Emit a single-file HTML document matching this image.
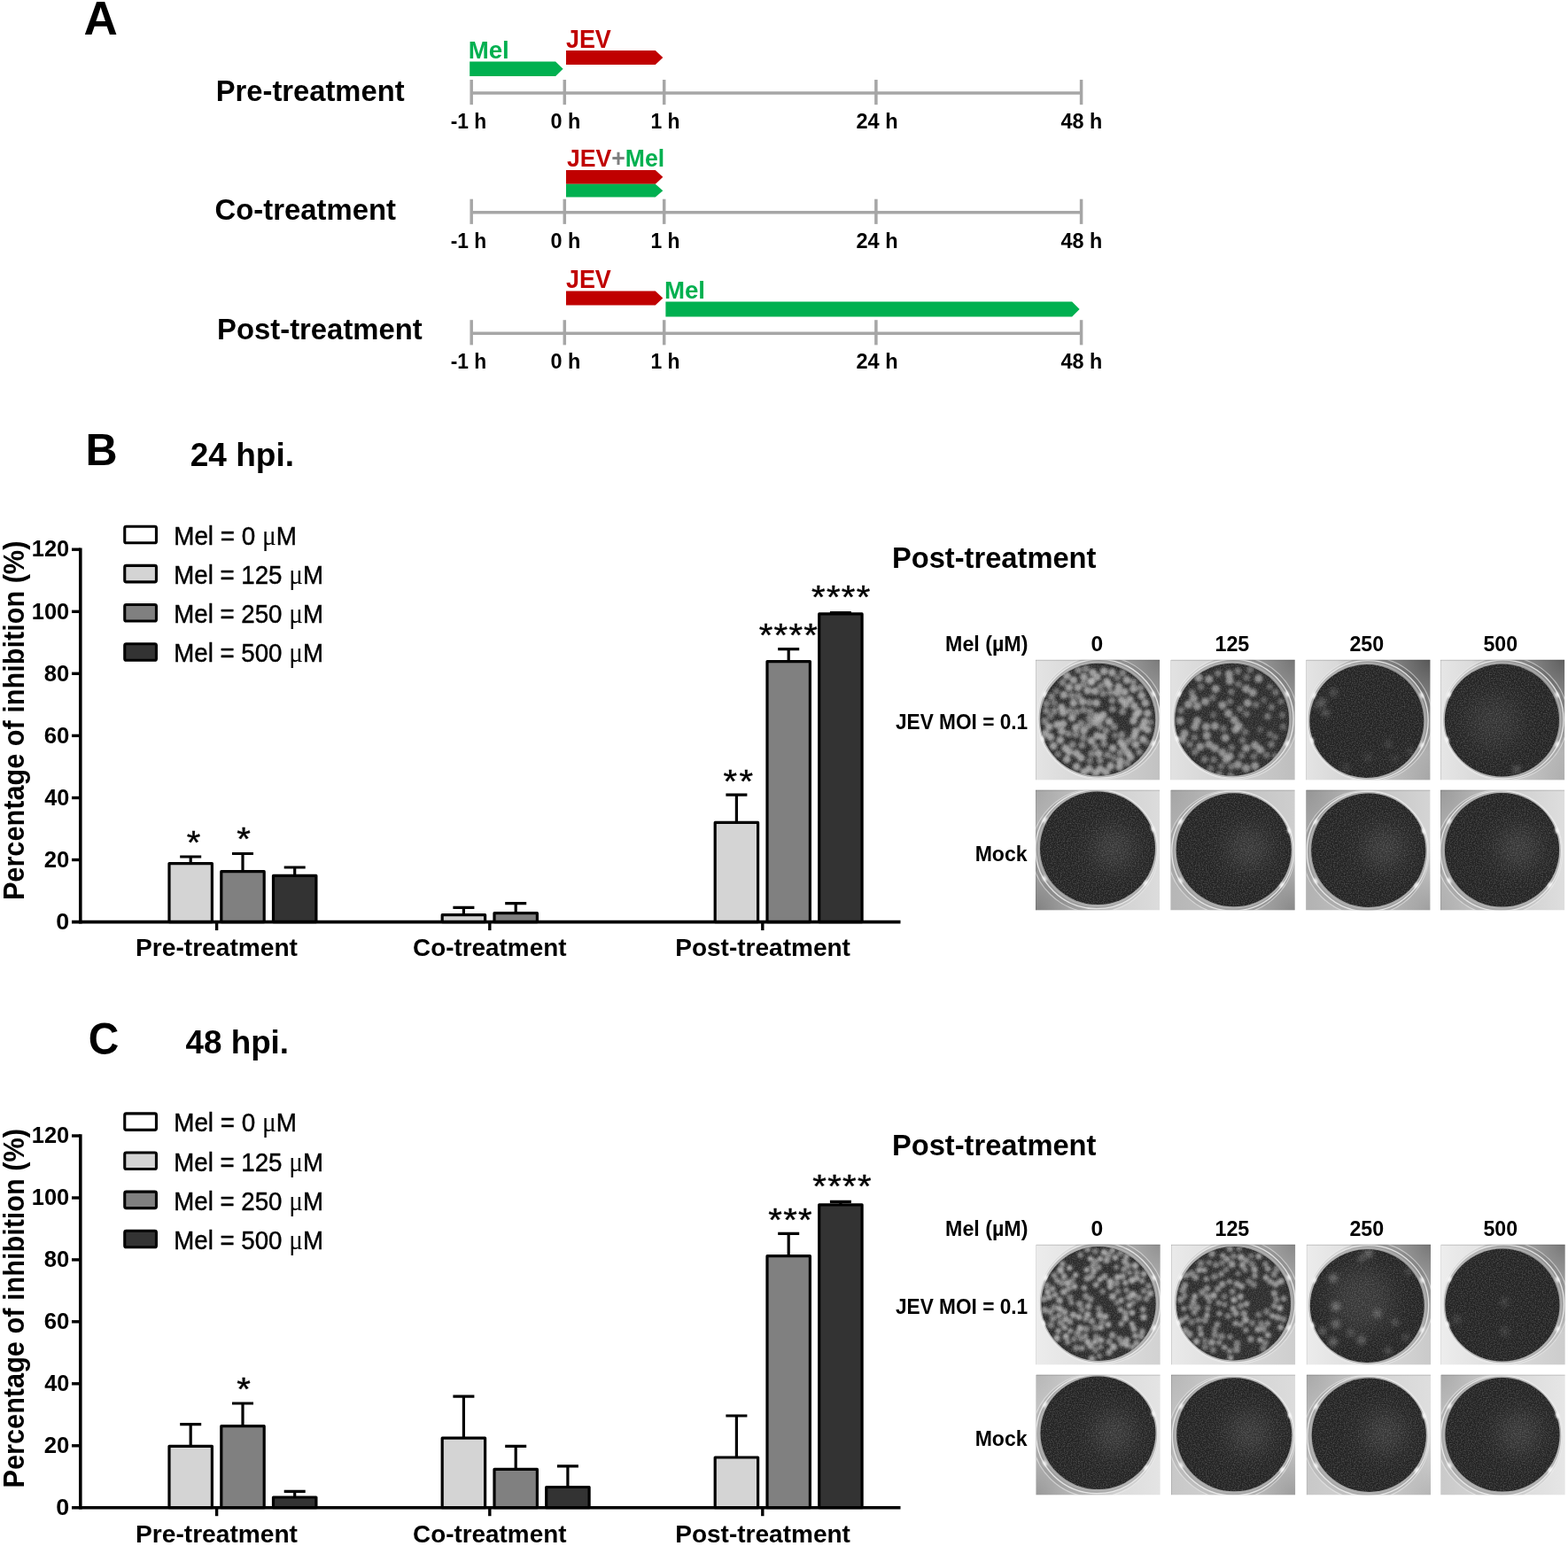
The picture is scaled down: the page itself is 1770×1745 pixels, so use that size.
<!DOCTYPE html>
<html lang="en"><head><meta charset="utf-8"><title>Figure</title>
<style>html,body{margin:0;padding:0;background:#fff}svg{display:block}text{font-family:"Liberation Sans",sans-serif}.b{font-weight:bold}.mu{font-family:"Liberation Serif",serif}</style></head><body>
<svg width="1770" height="1745" viewBox="0 0 1770 1745">
<rect width="1770" height="1745" fill="#fff"/>
<defs>
<filter id="blur0" x="-5%" y="-5%" width="110%" height="110%"><feGaussianBlur stdDeviation="0.55"/></filter>
<filter id="blur1" x="-100%" y="-100%" width="300%" height="300%"><feGaussianBlur stdDeviation="0.9"/></filter>
<filter id="blur" x="-20%" y="-20%" width="140%" height="140%"><feGaussianBlur stdDeviation="1.7"/></filter>
<filter id="blur2" x="-20%" y="-20%" width="140%" height="140%"><feGaussianBlur stdDeviation="2.6"/></filter>
<filter id="blur3" x="-100%" y="-100%" width="300%" height="300%"><feGaussianBlur stdDeviation="12"/></filter>
<filter id="noise" x="0" y="0" width="100%" height="100%"><feTurbulence type="fractalNoise" baseFrequency="0.75" numOctaves="1" seed="3" result="n"/><feGaussianBlur in="n" stdDeviation="0.45" result="nb"/><feColorMatrix in="nb" type="matrix" values="0 0 0 0 1  0 0 0 0 1  0 0 0 0 1  0.5 0 0 0 -0.205" result="m"/><feComposite in="m" in2="SourceGraphic" operator="in"/></filter>
<linearGradient id="gm" x1="0" y1="0" x2="0" y2="1"><stop offset="0" stop-color="#fff" stop-opacity="0"/><stop offset="1" stop-color="#fff" stop-opacity="1"/></linearGradient>
</defs>
<text transform="translate(94.58 38.8) scale(1.0057 1)" font-size="52.76" class="b">A</text>
<g stroke="#a6a6a6" stroke-width="3.5" fill="none">
<path d="M532.2 105.0H1220.6"/>
<path d="M532.2 90.0V118.2"/>
<path d="M637.3 90.0V118.2"/>
<path d="M749.7 90.0V118.2"/>
<path d="M988.9 90.0V118.2"/>
<path d="M1220.6 90.0V118.2"/>
</g>
<text transform="translate(508.71 144.6) scale(0.9330 1)" font-size="24.42" class="b">-1 h</text>
<text transform="translate(621.47 144.6) scale(0.9603 1)" font-size="24.42" class="b">0 h</text>
<text transform="translate(734.46 144.6) scale(0.9370 1)" font-size="24.42" class="b">1 h</text>
<text transform="translate(966.38 144.6) scale(0.9677 1)" font-size="24.42" class="b">24 h</text>
<text transform="translate(1197.45 144.6) scale(0.9579 1)" font-size="24.42" class="b">48 h</text>
<text transform="translate(243.71 114.1) scale(0.9794 1)" font-size="33.43" class="b">Pre-treatment</text>
<polygon points="530.2,69.5 627.1,69.5 635.6,77.8 627.1,86.1 530.2,86.1" fill="#00b050"/>
<polygon points="639,57 739.8,57 748.3,65.0 739.8,73 639,73" fill="#c00000"/>
<text transform="translate(528.65 65.6) scale(1.0231 1)" font-size="27.04" class="b" fill="#00b050">Mel</text>
<text transform="translate(638.89 54) scale(0.9098 1)" font-size="29.65" class="b" fill="#c00000">JEV</text>
<g stroke="#a6a6a6" stroke-width="3.5" fill="none">
<path d="M532.2 239.7H1220.6"/>
<path d="M532.2 224.7V252.89999999999998"/>
<path d="M637.3 224.7V252.89999999999998"/>
<path d="M749.7 224.7V252.89999999999998"/>
<path d="M988.9 224.7V252.89999999999998"/>
<path d="M1220.6 224.7V252.89999999999998"/>
</g>
<text transform="translate(508.71 279.5) scale(0.9330 1)" font-size="24.42" class="b">-1 h</text>
<text transform="translate(621.47 279.5) scale(0.9603 1)" font-size="24.42" class="b">0 h</text>
<text transform="translate(734.46 279.5) scale(0.9370 1)" font-size="24.42" class="b">1 h</text>
<text transform="translate(966.38 279.5) scale(0.9677 1)" font-size="24.42" class="b">24 h</text>
<text transform="translate(1197.45 279.5) scale(0.9579 1)" font-size="24.42" class="b">48 h</text>
<text transform="translate(242.55 247.5) scale(0.9828 1)" font-size="33.43" class="b">Co-treatment</text>
<polygon points="639,192 739.8,192 748.3,199.85 739.8,207.7 639,207.7" fill="#c00000"/>
<polygon points="639,207.7 739.8,207.7 748.3,215.14999999999998 739.8,222.6 639,222.6" fill="#00b050"/>
<text transform="translate(639.90 187.6) scale(0.9436 1)" font-size="28.20" class="b"><tspan fill="#c00000">JEV</tspan><tspan fill="#7f7f7f">+</tspan><tspan fill="#00b050">Mel</tspan></text>
<g stroke="#a6a6a6" stroke-width="3.5" fill="none">
<path d="M532.2 376.2H1220.6"/>
<path d="M532.2 361.2V389.4"/>
<path d="M637.3 361.2V389.4"/>
<path d="M749.7 361.2V389.4"/>
<path d="M988.9 361.2V389.4"/>
<path d="M1220.6 361.2V389.4"/>
</g>
<text transform="translate(508.71 416) scale(0.9330 1)" font-size="24.42" class="b">-1 h</text>
<text transform="translate(621.47 416) scale(0.9603 1)" font-size="24.42" class="b">0 h</text>
<text transform="translate(734.46 416) scale(0.9370 1)" font-size="24.42" class="b">1 h</text>
<text transform="translate(966.38 416) scale(0.9677 1)" font-size="24.42" class="b">24 h</text>
<text transform="translate(1197.45 416) scale(0.9579 1)" font-size="24.42" class="b">48 h</text>
<text transform="translate(245.10 382.6) scale(0.9821 1)" font-size="33.43" class="b">Post-treatment</text>
<polygon points="639,328.6 739.8,328.6 748.3,336.5 739.8,344.4 639,344.4" fill="#c00000"/>
<polygon points="751.4,340.4 1210.1,340.4 1218.6,349.0 1210.1,357.6 751.4,357.6" fill="#00b050"/>
<text transform="translate(638.89 324.5) scale(0.9098 1)" font-size="29.65" class="b" fill="#c00000">JEV</text>
<text transform="translate(749.95 336.9) scale(1.0231 1)" font-size="27.04" class="b" fill="#00b050">Mel</text>
<rect x="140.75" y="594.25" width="35.7" height="18.5" rx="1.8" fill="#ffffff" stroke="#000" stroke-width="3.1"/>
<text transform="translate(196.22 614.7) scale(0.9161 1)" font-size="30.38" stroke="#000" stroke-width="0.45">Mel = 0 <tspan class="mu" stroke="none" font-size="32.20">μ</tspan>M</text>
<rect x="140.75" y="638.40" width="35.7" height="18.5" rx="1.8" fill="#d4d4d4" stroke="#000" stroke-width="3.1"/>
<text transform="translate(196.23 658.9) scale(0.9113 1)" font-size="30.38" stroke="#000" stroke-width="0.45">Mel = 125 <tspan class="mu" stroke="none" font-size="32.20">μ</tspan>M</text>
<rect x="140.75" y="682.55" width="35.7" height="18.5" rx="1.8" fill="#808080" stroke="#000" stroke-width="3.1"/>
<text transform="translate(196.23 703.0) scale(0.9113 1)" font-size="30.38" stroke="#000" stroke-width="0.45">Mel = 250 <tspan class="mu" stroke="none" font-size="32.20">μ</tspan>M</text>
<rect x="140.75" y="726.70" width="35.7" height="18.5" rx="1.8" fill="#333333" stroke="#000" stroke-width="3.1"/>
<text transform="translate(196.23 747.2) scale(0.9113 1)" font-size="30.38" stroke="#000" stroke-width="0.45">Mel = 500 <tspan class="mu" stroke="none" font-size="32.20">μ</tspan>M</text>
<path d="M215.2 974.6V967.0M203.2 967.0H227.2" stroke="#000" stroke-width="3.2" fill="none"/>
<rect x="191.0" y="974.6" width="48.4" height="66.0" fill="#d4d4d4" stroke="#000" stroke-width="3.2" stroke-linejoin="round"/>
<path d="M274.0 983.7V963.5M262.0 963.5H286.0" stroke="#000" stroke-width="3.2" fill="none"/>
<rect x="249.8" y="983.7" width="48.4" height="56.9" fill="#808080" stroke="#000" stroke-width="3.2" stroke-linejoin="round"/>
<path d="M332.7 988.4V979.0M320.7 979.0H344.7" stroke="#000" stroke-width="3.2" fill="none"/>
<rect x="308.5" y="988.4" width="48.4" height="52.2" fill="#333333" stroke="#000" stroke-width="3.2" stroke-linejoin="round"/>
<path d="M523.4 1032.7V1024.4M511.4 1024.4H535.4" stroke="#000" stroke-width="3.2" fill="none"/>
<rect x="499.2" y="1032.7" width="48.4" height="7.9" fill="#d4d4d4" stroke="#000" stroke-width="3.2" stroke-linejoin="round"/>
<path d="M582.2 1030.7V1019.7M570.2 1019.7H594.2" stroke="#000" stroke-width="3.2" fill="none"/>
<rect x="558.0" y="1030.7" width="48.4" height="9.9" fill="#808080" stroke="#000" stroke-width="3.2" stroke-linejoin="round"/>
<path d="M831.4 928.4V897.2M819.4 897.2H843.4" stroke="#000" stroke-width="3.2" fill="none"/>
<rect x="807.2" y="928.4" width="48.4" height="112.2" fill="#d4d4d4" stroke="#000" stroke-width="3.2" stroke-linejoin="round"/>
<path d="M890.2 746.6V732.7M878.2 732.7H902.2" stroke="#000" stroke-width="3.2" fill="none"/>
<rect x="866.0" y="746.6" width="48.4" height="294.0" fill="#808080" stroke="#000" stroke-width="3.2" stroke-linejoin="round"/>
<path d="M948.9 692.9V691.6M936.9 691.6H960.9" stroke="#000" stroke-width="3.2" fill="none"/>
<rect x="924.7" y="692.9" width="48.4" height="347.7" fill="#333333" stroke="#000" stroke-width="3.2" stroke-linejoin="round"/>
<g stroke="#000" stroke-width="3.6" fill="none">
<path d="M90.8 618.5V1042.4"/>
<path d="M81 1040.6H1016.5"/>
</g>
<g stroke="#000" stroke-width="3.4" fill="none">
<path d="M81 970.5H90.8"/>
<path d="M81 900.5H90.8"/>
<path d="M81 830.4H90.8"/>
<path d="M81 760.3H90.8"/>
<path d="M81 690.3H90.8"/>
<path d="M81 620.2H90.8"/>
<path d="M244.6 1040.6V1050.1"/>
<path d="M552.8 1040.6V1050.1"/>
<path d="M860.8 1040.6V1050.1"/>
</g>
<text transform="translate(63.34 1048.8) scale(1.0461 1)" font-size="25.73" class="b">0</text>
<text transform="translate(49.71 978.7) scale(0.9974 1)" font-size="25.73" class="b">20</text>
<text transform="translate(50.22 908.7) scale(0.9790 1)" font-size="25.73" class="b">40</text>
<text transform="translate(49.66 838.6) scale(0.9993 1)" font-size="25.73" class="b">60</text>
<text transform="translate(49.79 768.5) scale(0.9946 1)" font-size="25.73" class="b">80</text>
<text transform="translate(35.80 698.5) scale(0.9888 1)" font-size="25.73" class="b">100</text>
<text transform="translate(35.80 628.4) scale(0.9888 1)" font-size="25.73" class="b">120</text>
<text transform="translate(153.02 1079.4) scale(0.9932 1)" font-size="28.34" class="b">Pre-treatment</text>
<text transform="translate(466.06 1079.4) scale(0.9836 1)" font-size="28.34" class="b">Co-treatment</text>
<text transform="translate(762.22 1079.4) scale(0.9890 1)" font-size="28.34" class="b">Post-treatment</text>
<text transform="translate(26.7 1016.1) rotate(-90) scale(0.9018 1)" font-size="34.01" class="b">Percentage of inhibition (%)</text>
<text transform="translate(210.7 963.5) scale(1 0.9)" font-size="40" letter-spacing="1.3" stroke="#000" stroke-width="0.45">*</text>
<text transform="translate(267.2 960.2) scale(1 0.9)" font-size="40" letter-spacing="1.3" stroke="#000" stroke-width="0.45">*</text>
<text transform="translate(816.5 895.0) scale(1 0.9)" font-size="40" letter-spacing="2.4" stroke="#000" stroke-width="0.45">**</text>
<text transform="translate(856.7 729.5) scale(1 0.9)" font-size="40" letter-spacing="1.3" stroke="#000" stroke-width="0.45">****</text>
<text transform="translate(916.1 687.4) scale(1 0.9)" font-size="40" letter-spacing="1.3" stroke="#000" stroke-width="0.45">****</text>
<text transform="translate(96.45 524.5) scale(0.9859 1)" font-size="50.73" class="b">B</text>
<text transform="translate(214.71 526.4) scale(0.9887 1)" font-size="37.50" class="b">24 hpi.</text>
<rect x="140.75" y="1256.85" width="35.7" height="18.5" rx="1.8" fill="#ffffff" stroke="#000" stroke-width="3.1"/>
<text transform="translate(196.22 1277.3) scale(0.9161 1)" font-size="30.38" stroke="#000" stroke-width="0.45">Mel = 0 <tspan class="mu" stroke="none" font-size="32.20">μ</tspan>M</text>
<rect x="140.75" y="1301.00" width="35.7" height="18.5" rx="1.8" fill="#d4d4d4" stroke="#000" stroke-width="3.1"/>
<text transform="translate(196.23 1321.5) scale(0.9113 1)" font-size="30.38" stroke="#000" stroke-width="0.45">Mel = 125 <tspan class="mu" stroke="none" font-size="32.20">μ</tspan>M</text>
<rect x="140.75" y="1345.15" width="35.7" height="18.5" rx="1.8" fill="#808080" stroke="#000" stroke-width="3.1"/>
<text transform="translate(196.23 1365.6) scale(0.9113 1)" font-size="30.38" stroke="#000" stroke-width="0.45">Mel = 250 <tspan class="mu" stroke="none" font-size="32.20">μ</tspan>M</text>
<rect x="140.75" y="1389.30" width="35.7" height="18.5" rx="1.8" fill="#333333" stroke="#000" stroke-width="3.1"/>
<text transform="translate(196.23 1409.8) scale(0.9113 1)" font-size="30.38" stroke="#000" stroke-width="0.45">Mel = 500 <tspan class="mu" stroke="none" font-size="32.20">μ</tspan>M</text>
<path d="M215.2 1632.3V1607.7M203.2 1607.7H227.2" stroke="#000" stroke-width="3.2" fill="none"/>
<rect x="191.0" y="1632.3" width="48.4" height="69.4" fill="#d4d4d4" stroke="#000" stroke-width="3.2" stroke-linejoin="round"/>
<path d="M274.0 1609.7V1584.0M262.0 1584.0H286.0" stroke="#000" stroke-width="3.2" fill="none"/>
<rect x="249.8" y="1609.7" width="48.4" height="92.0" fill="#808080" stroke="#000" stroke-width="3.2" stroke-linejoin="round"/>
<path d="M332.7 1690.0V1683.3M320.7 1683.3H344.7" stroke="#000" stroke-width="3.2" fill="none"/>
<rect x="308.5" y="1690.0" width="48.4" height="11.7" fill="#333333" stroke="#000" stroke-width="3.2" stroke-linejoin="round"/>
<path d="M523.4 1623.2V1576.1M511.4 1576.1H535.4" stroke="#000" stroke-width="3.2" fill="none"/>
<rect x="499.2" y="1623.2" width="48.4" height="78.5" fill="#d4d4d4" stroke="#000" stroke-width="3.2" stroke-linejoin="round"/>
<path d="M582.2 1658.4V1632.3M570.2 1632.3H594.2" stroke="#000" stroke-width="3.2" fill="none"/>
<rect x="558.0" y="1658.4" width="48.4" height="43.3" fill="#808080" stroke="#000" stroke-width="3.2" stroke-linejoin="round"/>
<path d="M640.9 1678.5V1654.8M628.9 1654.8H652.9" stroke="#000" stroke-width="3.2" fill="none"/>
<rect x="616.7" y="1678.5" width="48.4" height="23.2" fill="#333333" stroke="#000" stroke-width="3.2" stroke-linejoin="round"/>
<path d="M831.4 1645.0V1598.0M819.4 1598.0H843.4" stroke="#000" stroke-width="3.2" fill="none"/>
<rect x="807.2" y="1645.0" width="48.4" height="56.7" fill="#d4d4d4" stroke="#000" stroke-width="3.2" stroke-linejoin="round"/>
<path d="M890.2 1417.7V1392.3M878.2 1392.3H902.2" stroke="#000" stroke-width="3.2" fill="none"/>
<rect x="866.0" y="1417.7" width="48.4" height="284.0" fill="#808080" stroke="#000" stroke-width="3.2" stroke-linejoin="round"/>
<path d="M948.9 1359.8V1356.4M936.9 1356.4H960.9" stroke="#000" stroke-width="3.2" fill="none"/>
<rect x="924.7" y="1359.8" width="48.4" height="341.9" fill="#333333" stroke="#000" stroke-width="3.2" stroke-linejoin="round"/>
<g stroke="#000" stroke-width="3.6" fill="none">
<path d="M90.8 1280.3V1703.5"/>
<path d="M81 1701.7H1016.5"/>
</g>
<g stroke="#000" stroke-width="3.4" fill="none">
<path d="M81 1631.8H90.8"/>
<path d="M81 1561.8H90.8"/>
<path d="M81 1491.8H90.8"/>
<path d="M81 1421.9H90.8"/>
<path d="M81 1352.0H90.8"/>
<path d="M81 1282.0H90.8"/>
<path d="M244.6 1701.7V1711.2"/>
<path d="M552.8 1701.7V1711.2"/>
<path d="M860.8 1701.7V1711.2"/>
</g>
<text transform="translate(63.34 1709.9) scale(1.0461 1)" font-size="25.73" class="b">0</text>
<text transform="translate(49.71 1640.0) scale(0.9974 1)" font-size="25.73" class="b">20</text>
<text transform="translate(50.22 1570.0) scale(0.9790 1)" font-size="25.73" class="b">40</text>
<text transform="translate(49.66 1500.0) scale(0.9993 1)" font-size="25.73" class="b">60</text>
<text transform="translate(49.79 1430.1) scale(0.9946 1)" font-size="25.73" class="b">80</text>
<text transform="translate(35.80 1360.2) scale(0.9888 1)" font-size="25.73" class="b">100</text>
<text transform="translate(35.80 1290.2) scale(0.9888 1)" font-size="25.73" class="b">120</text>
<text transform="translate(153.02 1740.5) scale(0.9932 1)" font-size="28.34" class="b">Pre-treatment</text>
<text transform="translate(466.06 1740.5) scale(0.9836 1)" font-size="28.34" class="b">Co-treatment</text>
<text transform="translate(762.22 1740.5) scale(0.9890 1)" font-size="28.34" class="b">Post-treatment</text>
<text transform="translate(26.7 1679.4) rotate(-90) scale(0.9018 1)" font-size="34.01" class="b">Percentage of inhibition (%)</text>
<text transform="translate(267.2 1581.0) scale(1 0.9)" font-size="40" letter-spacing="1.3" stroke="#000" stroke-width="0.45">*</text>
<text transform="translate(867.3 1389.7) scale(1 0.9)" font-size="40" letter-spacing="1.3" stroke="#000" stroke-width="0.45">***</text>
<text transform="translate(917.3 1351.7) scale(1 0.9)" font-size="40" letter-spacing="1.3" stroke="#000" stroke-width="0.45">****</text>
<text transform="translate(99.74 1189.7) scale(0.9547 1)" font-size="50.15" class="b">C</text>
<text transform="translate(209.44 1189) scale(0.9824 1)" font-size="37.50" class="b">48 hpi.</text>
<text transform="translate(1006.91 640.8) scale(0.9694 1)" font-size="33.72" class="b">Post-treatment</text>
<text transform="translate(1067.05 734.8) scale(0.9808 1)" font-size="23.69" class="b">Mel (µM)</text>
<text transform="translate(1231.48 734.8) scale(1.0384 1)" font-size="23.69" class="b">0</text>
<text transform="translate(1371.43 734.8) scale(0.9845 1)" font-size="23.69" class="b">125</text>
<text transform="translate(1523.39 734.8) scale(0.9805 1)" font-size="23.69" class="b">250</text>
<text transform="translate(1674.39 734.8) scale(0.9781 1)" font-size="23.69" class="b">500</text>
<text transform="translate(1010.96 823) scale(0.9572 1)" font-size="23.69" class="b">JEV MOI = 0.1</text>
<text transform="translate(1100.66 971.6) scale(0.9729 1)" font-size="23.69" class="b">Mock</text>
<g><defs><clipPath id="tc1"><rect x="1169" y="744.6" width="140.3" height="136"/></clipPath><clipPath id="dc1"><ellipse cx="1239.2" cy="812.3" rx="65" ry="63.5"/></clipPath><linearGradient id="ga1" x1="0" y1="0" x2="1" y2="0"><stop offset="0" stop-color="#e4e4e4"/><stop offset="1" stop-color="#c2c2c2"/></linearGradient>
<radialGradient id="gc1_0" gradientUnits="userSpaceOnUse" cx="1309.3" cy="744.6" r="100"><stop offset="0" stop-color="#505050" stop-opacity="0.62"/><stop offset="1" stop-color="#505050" stop-opacity="0"/></radialGradient>
</defs>
<g clip-path="url(#tc1)">
<rect x="1169" y="744.6" width="140.3" height="136" fill="url(#ga1)"/>
<rect x="1169" y="744.6" width="140.3" height="136" fill="url(#gc1_0)"/>
<g filter="url(#blur0)">
<ellipse cx="1242.3" cy="810.1" rx="71.4" ry="69.5" fill="#000" fill-opacity="0.07" stroke="#f0f0f0" stroke-opacity="0.55" stroke-width="1.1"/>
<ellipse cx="1240.6" cy="811.3" rx="68.6" ry="66.9" fill="#9c9c9c" fill-opacity="0.65" stroke="#ececec" stroke-opacity="0.9" stroke-width="1.3"/>
<ellipse cx="1239.8" cy="811.9" rx="66.3" ry="64.7" fill="none" stroke="#b8b8b8" stroke-opacity="0.8" stroke-width="1.1"/>
</g>
<ellipse cx="1239.2" cy="812.3" rx="65" ry="63.5" fill="#2b2b2b"/>
<g clip-path="url(#dc1)"><g filter="url(#blur)" fill="#b4b4b4">
<circle cx="1233.6" cy="759.2" r="4.4" fill-opacity="0.80"/>
<circle cx="1246.1" cy="757.6" r="4.4" fill-opacity="0.80"/>
<circle cx="1255.3" cy="759.2" r="4.4" fill-opacity="0.80"/>
<circle cx="1204.3" cy="762.6" r="4.4" fill-opacity="0.80"/>
<circle cx="1223.5" cy="764.2" r="4.4" fill-opacity="0.80"/>
<circle cx="1238.6" cy="764.2" r="4.4" fill-opacity="0.80"/>
<circle cx="1231.9" cy="769.3" r="4.6" fill-opacity="0.95"/>
<circle cx="1211.8" cy="767.6" r="4.4" fill-opacity="0.80"/>
<circle cx="1249.4" cy="769.3" r="4.4" fill-opacity="0.80"/>
<circle cx="1272.0" cy="767.6" r="4.4" fill-opacity="0.80"/>
<circle cx="1216.8" cy="776.0" r="4.4" fill-opacity="0.80"/>
<circle cx="1206.8" cy="776.0" r="4.4" fill-opacity="0.80"/>
<circle cx="1252.0" cy="773.4" r="4.4" fill-opacity="0.80"/>
<circle cx="1262.8" cy="775.1" r="4.4" fill-opacity="0.80"/>
<circle cx="1279.5" cy="777.6" r="4.4" fill-opacity="0.80"/>
<circle cx="1236.1" cy="780.1" r="4.4" fill-opacity="0.80"/>
<circle cx="1227.7" cy="779.3" r="4.4" fill-opacity="0.80"/>
<circle cx="1269.5" cy="781.0" r="4.4" fill-opacity="0.80"/>
<circle cx="1201.0" cy="784.3" r="4.4" fill-opacity="0.80"/>
<circle cx="1261.2" cy="781.8" r="4.4" fill-opacity="0.80"/>
<circle cx="1288.7" cy="785.2" r="4.4" fill-opacity="0.80"/>
<circle cx="1211.8" cy="793.5" r="4.4" fill-opacity="0.80"/>
<circle cx="1221.9" cy="791.8" r="4.4" fill-opacity="0.80"/>
<circle cx="1237.7" cy="793.5" r="4.4" fill-opacity="0.80"/>
<circle cx="1266.2" cy="790.2" r="4.4" fill-opacity="0.80"/>
<circle cx="1275.4" cy="789.3" r="4.4" fill-opacity="0.80"/>
<circle cx="1270.4" cy="795.2" r="4.4" fill-opacity="0.80"/>
<circle cx="1280.4" cy="796.9" r="4.4" fill-opacity="0.80"/>
<circle cx="1292.9" cy="793.5" r="4.4" fill-opacity="0.80"/>
<circle cx="1198.4" cy="798.5" r="4.4" fill-opacity="0.80"/>
<circle cx="1200.1" cy="804.4" r="4.4" fill-opacity="0.80"/>
<circle cx="1285.4" cy="803.5" r="4.4" fill-opacity="0.80"/>
<circle cx="1210.2" cy="810.2" r="4.4" fill-opacity="0.80"/>
<circle cx="1237.7" cy="808.6" r="4.4" fill-opacity="0.80"/>
<circle cx="1245.3" cy="806.9" r="4.4" fill-opacity="0.80"/>
<circle cx="1282.1" cy="806.9" r="4.4" fill-opacity="0.80"/>
<circle cx="1295.4" cy="805.2" r="4.4" fill-opacity="0.80"/>
<circle cx="1236.1" cy="815.3" r="4.4" fill-opacity="0.80"/>
<circle cx="1252.0" cy="814.4" r="4.4" fill-opacity="0.80"/>
<circle cx="1241.9" cy="811.9" r="4.4" fill-opacity="0.80"/>
<circle cx="1279.5" cy="813.6" r="4.4" fill-opacity="0.80"/>
<circle cx="1292.1" cy="814.4" r="4.4" fill-opacity="0.80"/>
<circle cx="1184.2" cy="820.3" r="4.4" fill-opacity="0.80"/>
<circle cx="1193.4" cy="817.8" r="4.4" fill-opacity="0.80"/>
<circle cx="1200.1" cy="816.9" r="4.4" fill-opacity="0.80"/>
<circle cx="1214.3" cy="821.1" r="4.4" fill-opacity="0.80"/>
<circle cx="1289.6" cy="820.3" r="4.4" fill-opacity="0.80"/>
<circle cx="1223.5" cy="824.4" r="4.4" fill-opacity="0.80"/>
<circle cx="1198.4" cy="825.3" r="4.4" fill-opacity="0.80"/>
<circle cx="1180.1" cy="827.8" r="4.4" fill-opacity="0.80"/>
<circle cx="1282.1" cy="825.3" r="4.4" fill-opacity="0.80"/>
<circle cx="1295.4" cy="823.6" r="4.4" fill-opacity="0.80"/>
<circle cx="1238.6" cy="830.3" r="4.4" fill-opacity="0.80"/>
<circle cx="1245.3" cy="832.0" r="4.4" fill-opacity="0.80"/>
<circle cx="1185.9" cy="832.0" r="4.4" fill-opacity="0.80"/>
<circle cx="1258.6" cy="830.3" r="3.5" fill-opacity="0.50"/>
<circle cx="1280.4" cy="831.1" r="4.4" fill-opacity="0.80"/>
<circle cx="1231.9" cy="836.2" r="4.4" fill-opacity="0.80"/>
<circle cx="1196.8" cy="835.3" r="4.4" fill-opacity="0.80"/>
<circle cx="1265.3" cy="837.8" r="4.4" fill-opacity="0.80"/>
<circle cx="1290.4" cy="834.5" r="4.4" fill-opacity="0.80"/>
<circle cx="1189.2" cy="842.0" r="4.4" fill-opacity="0.80"/>
<circle cx="1202.6" cy="844.5" r="4.4" fill-opacity="0.80"/>
<circle cx="1256.1" cy="844.5" r="4.4" fill-opacity="0.80"/>
<circle cx="1268.7" cy="842.8" r="4.4" fill-opacity="0.80"/>
<circle cx="1282.1" cy="840.3" r="4.4" fill-opacity="0.80"/>
<circle cx="1215.2" cy="850.4" r="4.4" fill-opacity="0.80"/>
<circle cx="1240.3" cy="850.4" r="4.4" fill-opacity="0.80"/>
<circle cx="1272.9" cy="849.5" r="4.4" fill-opacity="0.80"/>
<circle cx="1206.8" cy="848.7" r="4.4" fill-opacity="0.80"/>
<circle cx="1204.3" cy="857.1" r="4.4" fill-opacity="0.80"/>
<circle cx="1220.2" cy="855.4" r="4.4" fill-opacity="0.80"/>
<circle cx="1264.5" cy="858.7" r="4.4" fill-opacity="0.80"/>
<circle cx="1276.2" cy="854.5" r="4.4" fill-opacity="0.80"/>
<circle cx="1215.2" cy="865.4" r="4.4" fill-opacity="0.80"/>
<circle cx="1229.4" cy="867.9" r="4.4" fill-opacity="0.80"/>
<circle cx="1253.6" cy="864.6" r="4.4" fill-opacity="0.80"/>
<circle cx="1241.9" cy="867.9" r="4.4" fill-opacity="0.80"/>
<circle cx="1263.7" cy="865.4" r="4.4" fill-opacity="0.80"/>
<circle cx="1223.5" cy="871.3" r="4.4" fill-opacity="0.80"/>
<circle cx="1236.9" cy="872.1" r="4.4" fill-opacity="0.80"/>
<circle cx="1248.6" cy="871.3" r="4.4" fill-opacity="0.80"/>
<circle cx="1190.1" cy="793.5" r="3.8" fill-opacity="0.50"/>
<circle cx="1185.9" cy="808.6" r="3.8" fill-opacity="0.50"/>
<circle cx="1298.8" cy="815.3" r="3.5" fill-opacity="0.50"/>
<circle cx="1261.2" cy="765.1" r="3.8" fill-opacity="0.50"/>
<circle cx="1192.6" cy="780.1" r="3.5" fill-opacity="0.50"/>
<circle cx="1286.2" cy="848.7" r="3.8" fill-opacity="0.60"/>
<circle cx="1257.0" cy="855.4" r="3.8" fill-opacity="0.50"/>
<circle cx="1230.2" cy="858.7" r="3.8" fill-opacity="0.50"/>
<circle cx="1194.3" cy="851.2" r="3.8" fill-opacity="0.50"/>
<circle cx="1295.4" cy="838.7" r="3.5" fill-opacity="0.40"/>
<circle cx="1255.9" cy="800.3" r="3.9" fill-opacity="0.60"/>
<circle cx="1246.3" cy="839.7" r="3.9" fill-opacity="0.60"/>
<circle cx="1217.3" cy="756.5" r="3.9" fill-opacity="0.60"/>
<circle cx="1248.7" cy="824.6" r="3.9" fill-opacity="0.60"/>
<circle cx="1221.4" cy="841.2" r="3.9" fill-opacity="0.60"/>
<circle cx="1214.5" cy="828.9" r="3.9" fill-opacity="0.60"/>
<circle cx="1266.2" cy="829.2" r="3.9" fill-opacity="0.60"/>
<circle cx="1230.7" cy="803.2" r="3.9" fill-opacity="0.60"/>
<circle cx="1232.2" cy="850.7" r="3.9" fill-opacity="0.60"/>
<circle cx="1199.6" cy="770.5" r="3.9" fill-opacity="0.60"/>
<circle cx="1210.7" cy="840.5" r="3.9" fill-opacity="0.60"/>
<circle cx="1245.2" cy="782.7" r="3.9" fill-opacity="0.60"/>
<circle cx="1255.4" cy="790.6" r="3.9" fill-opacity="0.60"/>
<circle cx="1210.0" cy="785.1" r="3.9" fill-opacity="0.60"/>
<circle cx="1220.4" cy="816.4" r="3.9" fill-opacity="0.60"/>
<circle cx="1181.3" cy="794.1" r="3.9" fill-opacity="0.60"/>
<circle cx="1253.6" cy="781.4" r="3.9" fill-opacity="0.60"/>
<circle cx="1206.1" cy="828.2" r="3.9" fill-opacity="0.60"/>
<circle cx="1223.0" cy="801.2" r="3.9" fill-opacity="0.60"/>
<circle cx="1179.4" cy="814.0" r="3.9" fill-opacity="0.60"/>
<circle cx="1273.9" cy="836.2" r="3.9" fill-opacity="0.60"/>
<circle cx="1241.9" cy="820.1" r="3.9" fill-opacity="0.60"/>
<circle cx="1267.4" cy="759.6" r="3.9" fill-opacity="0.60"/>
<circle cx="1241.8" cy="858.2" r="3.9" fill-opacity="0.60"/>
<circle cx="1225.7" cy="754.8" r="3.9" fill-opacity="0.60"/>
<circle cx="1250.1" cy="851.9" r="3.9" fill-opacity="0.60"/>
<circle cx="1187.0" cy="786.4" r="3.9" fill-opacity="0.60"/>
<circle cx="1229.7" cy="811.0" r="3.9" fill-opacity="0.60"/>
<circle cx="1279.4" cy="769.9" r="3.9" fill-opacity="0.60"/>
<circle cx="1229.8" cy="793.0" r="3.9" fill-opacity="0.60"/>
<circle cx="1257.7" cy="820.4" r="3.9" fill-opacity="0.60"/>
<circle cx="1190.3" cy="802.4" r="3.9" fill-opacity="0.60"/>
<circle cx="1242.5" cy="774.5" r="3.9" fill-opacity="0.60"/>
<circle cx="1215.1" cy="803.5" r="3.9" fill-opacity="0.60"/>
<circle cx="1228.9" cy="819.1" r="3.9" fill-opacity="0.60"/>
<circle cx="1267.1" cy="803.2" r="3.9" fill-opacity="0.60"/>
<circle cx="1236.4" cy="842.7" r="3.9" fill-opacity="0.60"/>
<circle cx="1264.4" cy="849.7" r="3.9" fill-opacity="0.60"/>
<circle cx="1272.4" cy="861.3" r="3.9" fill-opacity="0.60"/>
<circle cx="1217.6" cy="785.7" r="3.9" fill-opacity="0.60"/>
<circle cx="1287.4" cy="776.3" r="3.9" fill-opacity="0.60"/>
<circle cx="1181.1" cy="802.3" r="3.9" fill-opacity="0.60"/>
<circle cx="1207.4" cy="802.2" r="3.9" fill-opacity="0.60"/>
<circle cx="1223.1" cy="832.7" r="3.9" fill-opacity="0.60"/>
<circle cx="1223.2" cy="771.9" r="3.9" fill-opacity="0.60"/>
</g></g>
<ellipse cx="1239.2" cy="812.3" rx="65" ry="63.5" fill="#fff" filter="url(#noise)"/>
<ellipse cx="1179.2" cy="783.4" rx="3.4" ry="1.7" transform="rotate(295 1179.2 783.4)" fill="#fff" fill-opacity="0.95" filter="url(#blur1)"/>
<ellipse cx="1176.9" cy="833.9" rx="3.4" ry="1.7" transform="rotate(250 1176.9 833.9)" fill="#fff" fill-opacity="0.95" filter="url(#blur1)"/>
<ellipse cx="1302.0" cy="783.4" rx="3.4" ry="1.7" transform="rotate(425 1302.0 783.4)" fill="#fff" fill-opacity="0.95" filter="url(#blur1)"/>
<ellipse cx="1302.0" cy="839.2" rx="3.4" ry="1.7" transform="rotate(115 1302.0 839.2)" fill="#fff" fill-opacity="0.95" filter="url(#blur1)"/>
<path d="M1169 880.6V745.1H1309.3" fill="none" stroke="#000" stroke-opacity="0.22" stroke-width="1"/>
</g></g>
<g><defs><clipPath id="tc2"><rect x="1321.5" y="744.6" width="140.3" height="136"/></clipPath><clipPath id="dc2"><ellipse cx="1390.7" cy="812.3" rx="64.4" ry="63.5"/></clipPath><linearGradient id="ga2" x1="0" y1="0" x2="1" y2="0"><stop offset="0" stop-color="#e2e2e2"/><stop offset="1" stop-color="#bebebe"/></linearGradient>
<radialGradient id="gc2_0" gradientUnits="userSpaceOnUse" cx="1461.8" cy="744.6" r="100"><stop offset="0" stop-color="#505050" stop-opacity="0.66"/><stop offset="1" stop-color="#505050" stop-opacity="0"/></radialGradient>
</defs>
<g clip-path="url(#tc2)">
<rect x="1321.5" y="744.6" width="140.3" height="136" fill="url(#ga2)"/>
<rect x="1321.5" y="744.6" width="140.3" height="136" fill="url(#gc2_0)"/>
<g filter="url(#blur0)">
<ellipse cx="1393.8" cy="810.1" rx="70.80000000000001" ry="69.5" fill="#000" fill-opacity="0.07" stroke="#f0f0f0" stroke-opacity="0.55" stroke-width="1.1"/>
<ellipse cx="1392.1" cy="811.3" rx="68.0" ry="66.9" fill="#9c9c9c" fill-opacity="0.65" stroke="#ececec" stroke-opacity="0.9" stroke-width="1.3"/>
<ellipse cx="1391.3" cy="811.9" rx="65.7" ry="64.7" fill="none" stroke="#b8b8b8" stroke-opacity="0.8" stroke-width="1.1"/>
</g>
<ellipse cx="1390.7" cy="812.3" rx="64.4" ry="63.5" fill="#2b2b2b"/>
<g clip-path="url(#dc2)"><g filter="url(#blur)" fill="#b4b4b4">
<circle cx="1387.4" cy="760.9" r="4.6" fill-opacity="0.70"/>
<circle cx="1374.9" cy="760.1" r="3.8" fill-opacity="0.50"/>
<circle cx="1364.8" cy="766.8" r="4.6" fill-opacity="0.70"/>
<circle cx="1353.1" cy="765.1" r="4.6" fill-opacity="0.70"/>
<circle cx="1388.2" cy="768.4" r="4.6" fill-opacity="0.70"/>
<circle cx="1420.8" cy="765.9" r="4.6" fill-opacity="0.70"/>
<circle cx="1397.4" cy="757.6" r="3.8" fill-opacity="0.50"/>
<circle cx="1372.3" cy="777.6" r="4.6" fill-opacity="0.70"/>
<circle cx="1406.6" cy="777.6" r="4.6" fill-opacity="0.70"/>
<circle cx="1414.2" cy="781.8" r="4.6" fill-opacity="0.70"/>
<circle cx="1345.6" cy="781.8" r="3.8" fill-opacity="0.50"/>
<circle cx="1433.4" cy="775.1" r="3.5" fill-opacity="0.40"/>
<circle cx="1347.3" cy="788.5" r="4.6" fill-opacity="0.70"/>
<circle cx="1360.6" cy="791.8" r="4.6" fill-opacity="0.70"/>
<circle cx="1341.4" cy="795.2" r="4.6" fill-opacity="0.70"/>
<circle cx="1351.4" cy="796.9" r="4.6" fill-opacity="0.70"/>
<circle cx="1379.9" cy="796.0" r="4.6" fill-opacity="0.70"/>
<circle cx="1408.3" cy="793.5" r="4.6" fill-opacity="0.70"/>
<circle cx="1445.9" cy="791.8" r="3.5" fill-opacity="0.40"/>
<circle cx="1333.1" cy="801.9" r="3.8" fill-opacity="0.50"/>
<circle cx="1386.6" cy="805.2" r="4.6" fill-opacity="0.70"/>
<circle cx="1430.9" cy="808.6" r="3.8" fill-opacity="0.50"/>
<circle cx="1447.6" cy="806.9" r="3.5" fill-opacity="0.40"/>
<circle cx="1351.4" cy="813.6" r="4.6" fill-opacity="0.70"/>
<circle cx="1332.2" cy="813.6" r="4.6" fill-opacity="0.70"/>
<circle cx="1393.3" cy="812.7" r="4.6" fill-opacity="0.70"/>
<circle cx="1398.3" cy="819.4" r="4.6" fill-opacity="0.70"/>
<circle cx="1448.4" cy="820.3" r="3.5" fill-opacity="0.40"/>
<circle cx="1348.9" cy="820.3" r="4.6" fill-opacity="0.70"/>
<circle cx="1361.5" cy="820.3" r="4.6" fill-opacity="0.70"/>
<circle cx="1371.5" cy="819.4" r="4.6" fill-opacity="0.70"/>
<circle cx="1394.9" cy="823.6" r="4.6" fill-opacity="0.70"/>
<circle cx="1337.2" cy="827.8" r="4.6" fill-opacity="0.70"/>
<circle cx="1362.3" cy="830.3" r="4.6" fill-opacity="0.70"/>
<circle cx="1383.2" cy="832.8" r="4.6" fill-opacity="0.70"/>
<circle cx="1433.4" cy="828.6" r="3.5" fill-opacity="0.40"/>
<circle cx="1334.7" cy="834.5" r="4.6" fill-opacity="0.70"/>
<circle cx="1416.7" cy="841.2" r="4.6" fill-opacity="0.70"/>
<circle cx="1406.6" cy="844.5" r="4.6" fill-opacity="0.70"/>
<circle cx="1422.5" cy="846.2" r="4.6" fill-opacity="0.70"/>
<circle cx="1435.1" cy="840.3" r="3.8" fill-opacity="0.50"/>
<circle cx="1354.8" cy="842.8" r="4.6" fill-opacity="0.70"/>
<circle cx="1364.8" cy="840.3" r="4.6" fill-opacity="0.70"/>
<circle cx="1371.5" cy="844.5" r="4.6" fill-opacity="0.70"/>
<circle cx="1439.2" cy="832.0" r="3.5" fill-opacity="0.40"/>
<circle cx="1379.9" cy="849.5" r="4.6" fill-opacity="0.70"/>
<circle cx="1388.2" cy="853.7" r="4.6" fill-opacity="0.70"/>
<circle cx="1384.1" cy="857.1" r="4.6" fill-opacity="0.70"/>
<circle cx="1348.9" cy="848.7" r="3.8" fill-opacity="0.50"/>
<circle cx="1397.4" cy="862.9" r="4.6" fill-opacity="0.70"/>
<circle cx="1416.7" cy="864.6" r="4.6" fill-opacity="0.70"/>
<circle cx="1406.6" cy="867.1" r="4.6" fill-opacity="0.70"/>
<circle cx="1389.9" cy="865.4" r="3.8" fill-opacity="0.50"/>
<circle cx="1376.5" cy="873.8" r="3.8" fill-opacity="0.50"/>
<circle cx="1389.1" cy="875.5" r="3.8" fill-opacity="0.50"/>
<circle cx="1426.7" cy="790.2" r="3.5" fill-opacity="0.35"/>
<circle cx="1422.5" cy="823.6" r="3.5" fill-opacity="0.30"/>
<circle cx="1439.2" cy="852.9" r="3.5" fill-opacity="0.40"/>
<circle cx="1359.8" cy="857.1" r="3.8" fill-opacity="0.50"/>
<circle cx="1343.1" cy="840.3" r="3.8" fill-opacity="0.50"/>
<circle cx="1369.8" cy="806.9" r="3.5" fill-opacity="0.40"/>
<circle cx="1401.6" cy="852.9" r="3.8" fill-opacity="0.50"/>
<circle cx="1407.3" cy="764.6" r="3.8" fill-opacity="0.45"/>
<circle cx="1368.9" cy="787.6" r="3.8" fill-opacity="0.45"/>
<circle cx="1435.3" cy="798.2" r="3.8" fill-opacity="0.45"/>
<circle cx="1411.3" cy="755.7" r="3.8" fill-opacity="0.45"/>
<circle cx="1390.0" cy="780.9" r="3.8" fill-opacity="0.45"/>
<circle cx="1399.9" cy="800.2" r="3.8" fill-opacity="0.45"/>
<circle cx="1355.5" cy="775.2" r="3.8" fill-opacity="0.45"/>
<circle cx="1429.6" cy="852.2" r="3.8" fill-opacity="0.45"/>
<circle cx="1440.0" cy="781.6" r="3.8" fill-opacity="0.45"/>
<circle cx="1398.0" cy="772.2" r="3.8" fill-opacity="0.45"/>
<circle cx="1407.1" cy="805.8" r="3.8" fill-opacity="0.45"/>
<circle cx="1381.1" cy="822.4" r="3.8" fill-opacity="0.45"/>
<circle cx="1388.3" cy="791.8" r="3.8" fill-opacity="0.45"/>
<circle cx="1415.5" cy="853.7" r="3.8" fill-opacity="0.45"/>
<circle cx="1405.6" cy="826.3" r="3.8" fill-opacity="0.45"/>
<circle cx="1402.6" cy="835.6" r="3.8" fill-opacity="0.45"/>
<circle cx="1417.8" cy="795.5" r="3.8" fill-opacity="0.45"/>
<circle cx="1348.5" cy="832.2" r="3.8" fill-opacity="0.45"/>
<circle cx="1390.2" cy="843.7" r="3.8" fill-opacity="0.45"/>
<circle cx="1370.0" cy="857.5" r="3.8" fill-opacity="0.45"/>
<circle cx="1378.7" cy="864.8" r="3.8" fill-opacity="0.45"/>
<circle cx="1366.6" cy="867.6" r="3.8" fill-opacity="0.45"/>
</g></g>
<ellipse cx="1390.7" cy="812.3" rx="64.4" ry="63.5" fill="#fff" filter="url(#noise)"/>
<ellipse cx="1331.2" cy="783.4" rx="3.4" ry="1.7" transform="rotate(295 1331.2 783.4)" fill="#fff" fill-opacity="0.95" filter="url(#blur1)"/>
<ellipse cx="1329.0" cy="833.9" rx="3.4" ry="1.7" transform="rotate(250 1329.0 833.9)" fill="#fff" fill-opacity="0.95" filter="url(#blur1)"/>
<ellipse cx="1453.0" cy="783.4" rx="3.4" ry="1.7" transform="rotate(425 1453.0 783.4)" fill="#fff" fill-opacity="0.95" filter="url(#blur1)"/>
<ellipse cx="1453.0" cy="839.2" rx="3.4" ry="1.7" transform="rotate(115 1453.0 839.2)" fill="#fff" fill-opacity="0.95" filter="url(#blur1)"/>
<path d="M1321.5 880.6V745.1H1461.8" fill="none" stroke="#000" stroke-opacity="0.22" stroke-width="1"/>
</g></g>
<g><defs><clipPath id="tc3"><rect x="1474.3" y="744.6" width="140.3" height="136"/></clipPath><clipPath id="dc3"><ellipse cx="1542.8" cy="814.0" rx="64.4" ry="63.9"/></clipPath><linearGradient id="ga3" x1="0" y1="0" x2="1" y2="0"><stop offset="0" stop-color="#e4e4e4"/><stop offset="1" stop-color="#b8b8b8"/></linearGradient>
<radialGradient id="gc3_0" gradientUnits="userSpaceOnUse" cx="1614.6" cy="744.6" r="105"><stop offset="0" stop-color="#404040" stop-opacity="0.8"/><stop offset="1" stop-color="#404040" stop-opacity="0"/></radialGradient>
<radialGradient id="gc3_1" gradientUnits="userSpaceOnUse" cx="1614.6" cy="880.6" r="70"><stop offset="0" stop-color="#606060" stop-opacity="0.2"/><stop offset="1" stop-color="#606060" stop-opacity="0"/></radialGradient>
</defs>
<g clip-path="url(#tc3)">
<rect x="1474.3" y="744.6" width="140.3" height="136" fill="url(#ga3)"/>
<rect x="1474.3" y="744.6" width="140.3" height="136" fill="url(#gc3_0)"/>
<rect x="1474.3" y="744.6" width="140.3" height="136" fill="url(#gc3_1)"/>
<g filter="url(#blur0)">
<ellipse cx="1545.9" cy="811.8" rx="70.80000000000001" ry="69.9" fill="#000" fill-opacity="0.07" stroke="#f0f0f0" stroke-opacity="0.55" stroke-width="1.1"/>
<ellipse cx="1544.2" cy="813.0" rx="68.0" ry="67.3" fill="#9c9c9c" fill-opacity="0.65" stroke="#ececec" stroke-opacity="0.9" stroke-width="1.3"/>
<ellipse cx="1543.4" cy="813.6" rx="65.7" ry="65.1" fill="none" stroke="#b8b8b8" stroke-opacity="0.8" stroke-width="1.1"/>
</g>
<ellipse cx="1542.8" cy="814.0" rx="64.4" ry="63.9" fill="#232323"/>
<g clip-path="url(#dc3)"><g filter="url(#blur2)" fill="#b4b4b4">
<circle cx="1492.3" cy="792.6" r="5.0" fill-opacity="0.32"/>
<circle cx="1505.3" cy="781.6" r="4.5" fill-opacity="0.28"/>
<circle cx="1496.3" cy="804.6" r="4.5" fill-opacity="0.30"/>
<circle cx="1486.3" cy="796.6" r="4.0" fill-opacity="0.20"/>
<circle cx="1567.3" cy="839.6" r="5.0" fill-opacity="0.14"/>
<circle cx="1544.3" cy="854.6" r="5.0" fill-opacity="0.12"/>
<circle cx="1592.3" cy="848.6" r="5.0" fill-opacity="0.12"/>
<circle cx="1519.3" cy="866.6" r="5.0" fill-opacity="0.12"/>
<circle cx="1574.3" cy="856.6" r="5.0" fill-opacity="0.10"/>
</g></g>
<ellipse cx="1542.8" cy="814.0" rx="64.4" ry="63.9" fill="#fff" filter="url(#noise)"/>
<ellipse cx="1483.3" cy="784.9" rx="3.4" ry="1.7" transform="rotate(295 1483.3 784.9)" fill="#fff" fill-opacity="0.95" filter="url(#blur1)"/>
<ellipse cx="1481.1" cy="835.7" rx="3.4" ry="1.7" transform="rotate(250 1481.1 835.7)" fill="#fff" fill-opacity="0.95" filter="url(#blur1)"/>
<ellipse cx="1605.1" cy="784.9" rx="3.4" ry="1.7" transform="rotate(425 1605.1 784.9)" fill="#fff" fill-opacity="0.95" filter="url(#blur1)"/>
<ellipse cx="1605.1" cy="841.1" rx="3.4" ry="1.7" transform="rotate(115 1605.1 841.1)" fill="#fff" fill-opacity="0.95" filter="url(#blur1)"/>
<path d="M1474.3 880.6V745.1H1614.6" fill="none" stroke="#000" stroke-opacity="0.22" stroke-width="1"/>
</g></g>
<g><defs><clipPath id="tc4"><rect x="1626" y="744.6" width="140.3" height="136"/></clipPath><clipPath id="dc4"><ellipse cx="1695.4" cy="813.1" rx="64.6" ry="63.5"/></clipPath><linearGradient id="ga4" x1="0" y1="0" x2="1" y2="0"><stop offset="0" stop-color="#e6e6e6"/><stop offset="1" stop-color="#bcbcbc"/></linearGradient>
<radialGradient id="gc4_0" gradientUnits="userSpaceOnUse" cx="1766.3" cy="744.6" r="105"><stop offset="0" stop-color="#404040" stop-opacity="0.75"/><stop offset="1" stop-color="#404040" stop-opacity="0"/></radialGradient>
<radialGradient id="gc4_1" gradientUnits="userSpaceOnUse" cx="1766.3" cy="880.6" r="70"><stop offset="0" stop-color="#606060" stop-opacity="0.15"/><stop offset="1" stop-color="#606060" stop-opacity="0"/></radialGradient>
</defs>
<g clip-path="url(#tc4)">
<rect x="1626" y="744.6" width="140.3" height="136" fill="url(#ga4)"/>
<rect x="1626" y="744.6" width="140.3" height="136" fill="url(#gc4_0)"/>
<rect x="1626" y="744.6" width="140.3" height="136" fill="url(#gc4_1)"/>
<g filter="url(#blur0)">
<ellipse cx="1698.5" cy="810.9" rx="71.0" ry="69.5" fill="#000" fill-opacity="0.07" stroke="#f0f0f0" stroke-opacity="0.55" stroke-width="1.1"/>
<ellipse cx="1696.8" cy="812.1" rx="68.19999999999999" ry="66.9" fill="#9c9c9c" fill-opacity="0.65" stroke="#ececec" stroke-opacity="0.9" stroke-width="1.3"/>
<ellipse cx="1696.0" cy="812.7" rx="65.89999999999999" ry="64.7" fill="none" stroke="#b8b8b8" stroke-opacity="0.8" stroke-width="1.1"/>
</g>
<ellipse cx="1695.4" cy="813.1" rx="64.6" ry="63.5" fill="#232323"/>
<g clip-path="url(#dc4)"><g filter="url(#blur2)" fill="#b4b4b4">
<circle cx="1712.0" cy="868.6" r="5.0" fill-opacity="0.25"/>
</g></g>
<g clip-path="url(#dc4)"><circle cx="1686" cy="814.6" r="30" fill="#fff" fill-opacity="0.07" filter="url(#blur3)"/></g>
<ellipse cx="1695.4" cy="813.1" rx="64.6" ry="63.5" fill="#fff" filter="url(#noise)"/>
<ellipse cx="1635.7" cy="784.2" rx="3.4" ry="1.7" transform="rotate(295 1635.7 784.2)" fill="#fff" fill-opacity="0.95" filter="url(#blur1)"/>
<ellipse cx="1633.5" cy="834.7" rx="3.4" ry="1.7" transform="rotate(250 1633.5 834.7)" fill="#fff" fill-opacity="0.95" filter="url(#blur1)"/>
<ellipse cx="1757.9" cy="784.2" rx="3.4" ry="1.7" transform="rotate(425 1757.9 784.2)" fill="#fff" fill-opacity="0.95" filter="url(#blur1)"/>
<ellipse cx="1757.9" cy="840.0" rx="3.4" ry="1.7" transform="rotate(115 1757.9 840.0)" fill="#fff" fill-opacity="0.95" filter="url(#blur1)"/>
<path d="M1626 880.6V745.1H1766.3" fill="none" stroke="#000" stroke-opacity="0.22" stroke-width="1"/>
</g></g>
<g><defs><clipPath id="tc5"><rect x="1169" y="891.5" width="140.3" height="136"/></clipPath><clipPath id="dc5"><ellipse cx="1239.0" cy="957.3" rx="65" ry="63.7"/></clipPath><linearGradient id="ga5" x1="0" y1="0" x2="1" y2="0"><stop offset="0" stop-color="#bebebe"/><stop offset="1" stop-color="#dcdcdc"/></linearGradient>
<radialGradient id="gc5_0" gradientUnits="userSpaceOnUse" cx="1169" cy="1027.5" r="85"><stop offset="0" stop-color="#505050" stop-opacity="0.55"/><stop offset="1" stop-color="#505050" stop-opacity="0"/></radialGradient>
<radialGradient id="gc5_1" gradientUnits="userSpaceOnUse" cx="1169" cy="891.5" r="70"><stop offset="0" stop-color="#707070" stop-opacity="0.3"/><stop offset="1" stop-color="#707070" stop-opacity="0"/></radialGradient>
</defs>
<g clip-path="url(#tc5)">
<rect x="1169" y="891.5" width="140.3" height="136" fill="url(#ga5)"/>
<rect x="1169" y="891.5" width="140.3" height="136" fill="url(#gc5_0)"/>
<rect x="1169" y="891.5" width="140.3" height="136" fill="url(#gc5_1)"/>
<g filter="url(#blur0)">
<ellipse cx="1236.1" cy="960.2" rx="71.4" ry="69.7" fill="#000" fill-opacity="0.07" stroke="#f0f0f0" stroke-opacity="0.55" stroke-width="1.1"/>
<ellipse cx="1237.7" cy="958.6" rx="68.6" ry="67.10000000000001" fill="#9c9c9c" fill-opacity="0.65" stroke="#ececec" stroke-opacity="0.9" stroke-width="1.3"/>
<ellipse cx="1238.5" cy="957.8" rx="66.3" ry="64.9" fill="none" stroke="#b8b8b8" stroke-opacity="0.8" stroke-width="1.1"/>
</g>
<ellipse cx="1239.0" cy="957.3" rx="65" ry="63.7" fill="#232323"/>
<g clip-path="url(#dc5)"><circle cx="1257" cy="957.5" r="24" fill="#fff" fill-opacity="0.1" filter="url(#blur3)"/></g>
<ellipse cx="1239.0" cy="957.3" rx="65" ry="63.7" fill="#fff" filter="url(#noise)"/>
<ellipse cx="1179.0" cy="925.4" rx="3.4" ry="1.7" transform="rotate(300 1179.0 925.4)" fill="#fff" fill-opacity="0.95" filter="url(#blur1)"/>
<ellipse cx="1179.0" cy="991.7" rx="3.4" ry="1.7" transform="rotate(240 1179.0 991.7)" fill="#fff" fill-opacity="0.95" filter="url(#blur1)"/>
<ellipse cx="1301.4" cy="935.9" rx="3.4" ry="1.7" transform="rotate(430 1301.4 935.9)" fill="#fff" fill-opacity="0.95" filter="url(#blur1)"/>
<ellipse cx="1293.2" cy="996.6" rx="3.4" ry="1.7" transform="rotate(125 1293.2 996.6)" fill="#fff" fill-opacity="0.95" filter="url(#blur1)"/>
<path d="M1169 1027.5V892.0H1309.3" fill="none" stroke="#000" stroke-opacity="0.22" stroke-width="1"/>
</g></g>
<g><defs><clipPath id="tc6"><rect x="1321.5" y="891.5" width="140.3" height="136"/></clipPath><clipPath id="dc6"><ellipse cx="1392.7" cy="959.3" rx="65" ry="64"/></clipPath><linearGradient id="ga6" x1="0" y1="0" x2="1" y2="0"><stop offset="0" stop-color="#b6b6b6"/><stop offset="1" stop-color="#cecece"/></linearGradient>
<radialGradient id="gc6_0" gradientUnits="userSpaceOnUse" cx="1461.8" cy="1027.5" r="85"><stop offset="0" stop-color="#505050" stop-opacity="0.55"/><stop offset="1" stop-color="#505050" stop-opacity="0"/></radialGradient>
<radialGradient id="gc6_1" gradientUnits="userSpaceOnUse" cx="1321.5" cy="891.5" r="70"><stop offset="0" stop-color="#707070" stop-opacity="0.25"/><stop offset="1" stop-color="#707070" stop-opacity="0"/></radialGradient>
</defs>
<g clip-path="url(#tc6)">
<rect x="1321.5" y="891.5" width="140.3" height="136" fill="url(#ga6)"/>
<rect x="1321.5" y="891.5" width="140.3" height="136" fill="url(#gc6_0)"/>
<rect x="1321.5" y="891.5" width="140.3" height="136" fill="url(#gc6_1)"/>
<g filter="url(#blur0)">
<ellipse cx="1389.8" cy="962.2" rx="71.4" ry="70.0" fill="#000" fill-opacity="0.07" stroke="#f0f0f0" stroke-opacity="0.55" stroke-width="1.1"/>
<ellipse cx="1391.4" cy="960.6" rx="68.6" ry="67.4" fill="#9c9c9c" fill-opacity="0.65" stroke="#ececec" stroke-opacity="0.9" stroke-width="1.3"/>
<ellipse cx="1392.2" cy="959.8" rx="66.3" ry="65.2" fill="none" stroke="#b8b8b8" stroke-opacity="0.8" stroke-width="1.1"/>
</g>
<ellipse cx="1392.7" cy="959.3" rx="65" ry="64" fill="#232323"/>
<g clip-path="url(#dc6)"><circle cx="1409.5" cy="957.5" r="24" fill="#fff" fill-opacity="0.1" filter="url(#blur3)"/></g>
<ellipse cx="1392.7" cy="959.3" rx="65" ry="64" fill="#fff" filter="url(#noise)"/>
<ellipse cx="1332.7" cy="927.3" rx="3.4" ry="1.7" transform="rotate(300 1332.7 927.3)" fill="#fff" fill-opacity="0.95" filter="url(#blur1)"/>
<ellipse cx="1332.7" cy="993.9" rx="3.4" ry="1.7" transform="rotate(240 1332.7 993.9)" fill="#fff" fill-opacity="0.95" filter="url(#blur1)"/>
<ellipse cx="1455.1" cy="937.8" rx="3.4" ry="1.7" transform="rotate(430 1455.1 937.8)" fill="#fff" fill-opacity="0.95" filter="url(#blur1)"/>
<ellipse cx="1446.9" cy="998.8" rx="3.4" ry="1.7" transform="rotate(125 1446.9 998.8)" fill="#fff" fill-opacity="0.95" filter="url(#blur1)"/>
<path d="M1321.5 1027.5V892.0H1461.8" fill="none" stroke="#000" stroke-opacity="0.22" stroke-width="1"/>
</g></g>
<g><defs><clipPath id="tc7"><rect x="1474.3" y="891.5" width="140.3" height="136"/></clipPath><clipPath id="dc7"><ellipse cx="1544.8" cy="959.7" rx="64.6" ry="64.2"/></clipPath><linearGradient id="ga7" x1="0" y1="0" x2="1" y2="0"><stop offset="0" stop-color="#b2b2b2"/><stop offset="1" stop-color="#d4d4d4"/></linearGradient>
<radialGradient id="gc7_0" gradientUnits="userSpaceOnUse" cx="1614.6" cy="1027.5" r="80"><stop offset="0" stop-color="#606060" stop-opacity="0.45"/><stop offset="1" stop-color="#606060" stop-opacity="0"/></radialGradient>
<radialGradient id="gc7_1" gradientUnits="userSpaceOnUse" cx="1474.3" cy="891.5" r="75"><stop offset="0" stop-color="#606060" stop-opacity="0.35"/><stop offset="1" stop-color="#606060" stop-opacity="0"/></radialGradient>
</defs>
<g clip-path="url(#tc7)">
<rect x="1474.3" y="891.5" width="140.3" height="136" fill="url(#ga7)"/>
<rect x="1474.3" y="891.5" width="140.3" height="136" fill="url(#gc7_0)"/>
<rect x="1474.3" y="891.5" width="140.3" height="136" fill="url(#gc7_1)"/>
<g filter="url(#blur0)">
<ellipse cx="1541.9" cy="962.6" rx="71.0" ry="70.2" fill="#000" fill-opacity="0.07" stroke="#f0f0f0" stroke-opacity="0.55" stroke-width="1.1"/>
<ellipse cx="1543.5" cy="961.0" rx="68.19999999999999" ry="67.60000000000001" fill="#9c9c9c" fill-opacity="0.65" stroke="#ececec" stroke-opacity="0.9" stroke-width="1.3"/>
<ellipse cx="1544.3" cy="960.2" rx="65.89999999999999" ry="65.4" fill="none" stroke="#b8b8b8" stroke-opacity="0.8" stroke-width="1.1"/>
</g>
<ellipse cx="1544.8" cy="959.7" rx="64.6" ry="64.2" fill="#232323"/>
<g clip-path="url(#dc7)"><circle cx="1562.3" cy="957.5" r="24" fill="#fff" fill-opacity="0.1" filter="url(#blur3)"/></g>
<ellipse cx="1544.8" cy="959.7" rx="64.6" ry="64.2" fill="#fff" filter="url(#noise)"/>
<ellipse cx="1485.1" cy="927.6" rx="3.4" ry="1.7" transform="rotate(300 1485.1 927.6)" fill="#fff" fill-opacity="0.95" filter="url(#blur1)"/>
<ellipse cx="1485.1" cy="994.4" rx="3.4" ry="1.7" transform="rotate(240 1485.1 994.4)" fill="#fff" fill-opacity="0.95" filter="url(#blur1)"/>
<ellipse cx="1606.8" cy="938.2" rx="3.4" ry="1.7" transform="rotate(430 1606.8 938.2)" fill="#fff" fill-opacity="0.95" filter="url(#blur1)"/>
<ellipse cx="1598.7" cy="999.3" rx="3.4" ry="1.7" transform="rotate(125 1598.7 999.3)" fill="#fff" fill-opacity="0.95" filter="url(#blur1)"/>
<path d="M1474.3 1027.5V892.0H1614.6" fill="none" stroke="#000" stroke-opacity="0.22" stroke-width="1"/>
</g></g>
<g><defs><clipPath id="tc8"><rect x="1626" y="891.5" width="140.3" height="136"/></clipPath><clipPath id="dc8"><ellipse cx="1695.5" cy="959.3" rx="64.6" ry="64.3"/></clipPath><linearGradient id="ga8" x1="0" y1="0" x2="1" y2="0"><stop offset="0" stop-color="#bababa"/><stop offset="1" stop-color="#dedede"/></linearGradient>
<radialGradient id="gc8_0" gradientUnits="userSpaceOnUse" cx="1626" cy="891.5" r="75"><stop offset="0" stop-color="#606060" stop-opacity="0.35"/><stop offset="1" stop-color="#606060" stop-opacity="0"/></radialGradient>
<radialGradient id="gc8_1" gradientUnits="userSpaceOnUse" cx="1626" cy="1027.5" r="60"><stop offset="0" stop-color="#707070" stop-opacity="0.15"/><stop offset="1" stop-color="#707070" stop-opacity="0"/></radialGradient>
</defs>
<g clip-path="url(#tc8)">
<rect x="1626" y="891.5" width="140.3" height="136" fill="url(#ga8)"/>
<rect x="1626" y="891.5" width="140.3" height="136" fill="url(#gc8_0)"/>
<rect x="1626" y="891.5" width="140.3" height="136" fill="url(#gc8_1)"/>
<g filter="url(#blur0)">
<ellipse cx="1692.6" cy="962.2" rx="71.0" ry="70.3" fill="#000" fill-opacity="0.07" stroke="#f0f0f0" stroke-opacity="0.55" stroke-width="1.1"/>
<ellipse cx="1694.2" cy="960.6" rx="68.19999999999999" ry="67.7" fill="#9c9c9c" fill-opacity="0.65" stroke="#ececec" stroke-opacity="0.9" stroke-width="1.3"/>
<ellipse cx="1695.0" cy="959.8" rx="65.89999999999999" ry="65.5" fill="none" stroke="#b8b8b8" stroke-opacity="0.8" stroke-width="1.1"/>
</g>
<ellipse cx="1695.5" cy="959.3" rx="64.6" ry="64.3" fill="#232323"/>
<g clip-path="url(#dc8)"><circle cx="1714" cy="957.5" r="24" fill="#fff" fill-opacity="0.1" filter="url(#blur3)"/></g>
<ellipse cx="1695.5" cy="959.3" rx="64.6" ry="64.3" fill="#fff" filter="url(#noise)"/>
<ellipse cx="1635.8" cy="927.1" rx="3.4" ry="1.7" transform="rotate(300 1635.8 927.1)" fill="#fff" fill-opacity="0.95" filter="url(#blur1)"/>
<ellipse cx="1635.8" cy="994.0" rx="3.4" ry="1.7" transform="rotate(240 1635.8 994.0)" fill="#fff" fill-opacity="0.95" filter="url(#blur1)"/>
<ellipse cx="1757.5" cy="937.7" rx="3.4" ry="1.7" transform="rotate(430 1757.5 937.7)" fill="#fff" fill-opacity="0.95" filter="url(#blur1)"/>
<ellipse cx="1749.4" cy="999.0" rx="3.4" ry="1.7" transform="rotate(125 1749.4 999.0)" fill="#fff" fill-opacity="0.95" filter="url(#blur1)"/>
<path d="M1626 1027.5V892.0H1766.3" fill="none" stroke="#000" stroke-opacity="0.22" stroke-width="1"/>
</g></g>
<text transform="translate(1006.91 1303.5) scale(0.9694 1)" font-size="33.72" class="b">Post-treatment</text>
<text transform="translate(1067.05 1394.8) scale(0.9808 1)" font-size="23.69" class="b">Mel (µM)</text>
<text transform="translate(1231.48 1394.8) scale(1.0384 1)" font-size="23.69" class="b">0</text>
<text transform="translate(1371.43 1394.8) scale(0.9845 1)" font-size="23.69" class="b">125</text>
<text transform="translate(1523.39 1394.8) scale(0.9805 1)" font-size="23.69" class="b">250</text>
<text transform="translate(1674.39 1394.8) scale(0.9781 1)" font-size="23.69" class="b">500</text>
<text transform="translate(1010.96 1483) scale(0.9572 1)" font-size="23.69" class="b">JEV MOI = 0.1</text>
<text transform="translate(1100.66 1631.6) scale(0.9729 1)" font-size="23.69" class="b">Mock</text>
<g><defs><clipPath id="tc9"><rect x="1169.5" y="1404.6" width="140.3" height="136"/></clipPath><clipPath id="dc9"><ellipse cx="1240.1" cy="1471.5" rx="64.6" ry="64.4"/></clipPath><linearGradient id="ga9" x1="0" y1="0" x2="1" y2="0"><stop offset="0" stop-color="#ececec"/><stop offset="1" stop-color="#d2d2d2"/></linearGradient>
<radialGradient id="gc9_0" gradientUnits="userSpaceOnUse" cx="1309.8" cy="1404.6" r="95"><stop offset="0" stop-color="#505050" stop-opacity="0.5"/><stop offset="1" stop-color="#505050" stop-opacity="0"/></radialGradient>
</defs>
<g clip-path="url(#tc9)">
<rect x="1169.5" y="1404.6" width="140.3" height="136" fill="url(#ga9)"/>
<rect x="1169.5" y="1404.6" width="140.3" height="136" fill="url(#gc9_0)"/>
<g filter="url(#blur0)">
<ellipse cx="1243.2" cy="1469.3" rx="71.0" ry="70.4" fill="#000" fill-opacity="0.07" stroke="#f0f0f0" stroke-opacity="0.55" stroke-width="1.1"/>
<ellipse cx="1241.5" cy="1470.5" rx="68.19999999999999" ry="67.80000000000001" fill="#9c9c9c" fill-opacity="0.65" stroke="#ececec" stroke-opacity="0.9" stroke-width="1.3"/>
<ellipse cx="1240.7" cy="1471.1" rx="65.89999999999999" ry="65.60000000000001" fill="none" stroke="#b8b8b8" stroke-opacity="0.8" stroke-width="1.1"/>
</g>
<ellipse cx="1240.1" cy="1471.5" rx="64.6" ry="64.4" fill="#2b2b2b"/>
<g clip-path="url(#dc9)"><g filter="url(#blur)" fill="#b4b4b4">
<circle cx="1266.7" cy="1516.5" r="3.6" fill-opacity="0.72"/>
<circle cx="1252.0" cy="1526.3" r="3.7" fill-opacity="0.73"/>
<circle cx="1209.5" cy="1470.5" r="3.0" fill-opacity="0.68"/>
<circle cx="1225.8" cy="1463.0" r="3.7" fill-opacity="0.63"/>
<circle cx="1241.5" cy="1484.4" r="3.9" fill-opacity="0.81"/>
<circle cx="1275.1" cy="1436.5" r="3.0" fill-opacity="0.67"/>
<circle cx="1218.7" cy="1471.8" r="3.9" fill-opacity="0.68"/>
<circle cx="1272.2" cy="1518.6" r="3.1" fill-opacity="0.87"/>
<circle cx="1195.3" cy="1485.1" r="3.3" fill-opacity="0.72"/>
<circle cx="1260.4" cy="1448.7" r="3.7" fill-opacity="0.62"/>
<circle cx="1298.5" cy="1459.9" r="3.7" fill-opacity="0.82"/>
<circle cx="1193.1" cy="1445.3" r="3.1" fill-opacity="0.72"/>
<circle cx="1253.2" cy="1446.5" r="3.8" fill-opacity="0.86"/>
<circle cx="1208.0" cy="1492.0" r="3.4" fill-opacity="0.69"/>
<circle cx="1279.3" cy="1470.2" r="3.0" fill-opacity="0.58"/>
<circle cx="1227.6" cy="1410.0" r="3.4" fill-opacity="0.72"/>
<circle cx="1188.3" cy="1454.5" r="3.2" fill-opacity="0.76"/>
<circle cx="1251.1" cy="1495.1" r="3.3" fill-opacity="0.87"/>
<circle cx="1212.3" cy="1511.5" r="3.3" fill-opacity="0.59"/>
<circle cx="1203.3" cy="1508.4" r="3.6" fill-opacity="0.86"/>
<circle cx="1278.9" cy="1461.1" r="3.9" fill-opacity="0.89"/>
<circle cx="1190.2" cy="1439.6" r="3.4" fill-opacity="0.68"/>
<circle cx="1241.1" cy="1530.5" r="3.1" fill-opacity="0.57"/>
<circle cx="1259.0" cy="1419.4" r="3.4" fill-opacity="0.84"/>
<circle cx="1270.4" cy="1481.8" r="3.3" fill-opacity="0.70"/>
<circle cx="1248.0" cy="1486.1" r="3.3" fill-opacity="0.86"/>
<circle cx="1294.2" cy="1465.9" r="3.4" fill-opacity="0.64"/>
<circle cx="1269.7" cy="1423.7" r="3.8" fill-opacity="0.76"/>
<circle cx="1197.2" cy="1493.0" r="3.8" fill-opacity="0.66"/>
<circle cx="1207.8" cy="1464.4" r="3.7" fill-opacity="0.55"/>
<circle cx="1268.8" cy="1432.8" r="3.2" fill-opacity="0.69"/>
<circle cx="1220.2" cy="1511.0" r="3.2" fill-opacity="0.61"/>
<circle cx="1255.7" cy="1506.9" r="3.6" fill-opacity="0.74"/>
<circle cx="1291.0" cy="1486.7" r="3.7" fill-opacity="0.83"/>
<circle cx="1232.5" cy="1440.7" r="3.6" fill-opacity="0.66"/>
<circle cx="1278.0" cy="1481.7" r="3.3" fill-opacity="0.87"/>
<circle cx="1227.6" cy="1514.4" r="3.5" fill-opacity="0.88"/>
<circle cx="1279.9" cy="1499.9" r="3.5" fill-opacity="0.81"/>
<circle cx="1274.4" cy="1464.3" r="3.6" fill-opacity="0.73"/>
<circle cx="1264.7" cy="1414.3" r="3.3" fill-opacity="0.66"/>
<circle cx="1260.7" cy="1470.6" r="3.1" fill-opacity="0.58"/>
<circle cx="1290.3" cy="1477.8" r="3.4" fill-opacity="0.73"/>
<circle cx="1211.4" cy="1484.1" r="3.6" fill-opacity="0.84"/>
<circle cx="1233.1" cy="1429.5" r="3.2" fill-opacity="0.68"/>
<circle cx="1190.2" cy="1475.7" r="3.9" fill-opacity="0.58"/>
<circle cx="1196.3" cy="1477.1" r="3.6" fill-opacity="0.86"/>
<circle cx="1249.3" cy="1422.5" r="3.7" fill-opacity="0.78"/>
<circle cx="1227.3" cy="1443.0" r="3.8" fill-opacity="0.69"/>
<circle cx="1197.1" cy="1433.7" r="3.9" fill-opacity="0.90"/>
<circle cx="1225.2" cy="1508.0" r="3.1" fill-opacity="0.74"/>
<circle cx="1270.5" cy="1488.1" r="3.8" fill-opacity="0.81"/>
<circle cx="1291.0" cy="1457.1" r="3.2" fill-opacity="0.67"/>
<circle cx="1207.3" cy="1431.1" r="3.2" fill-opacity="0.88"/>
<circle cx="1226.2" cy="1500.1" r="3.8" fill-opacity="0.60"/>
<circle cx="1213.0" cy="1452.3" r="3.3" fill-opacity="0.88"/>
<circle cx="1236.3" cy="1498.6" r="3.9" fill-opacity="0.56"/>
<circle cx="1240.4" cy="1477.0" r="3.5" fill-opacity="0.58"/>
<circle cx="1270.3" cy="1447.9" r="3.1" fill-opacity="0.83"/>
<circle cx="1260.2" cy="1430.3" r="3.0" fill-opacity="0.62"/>
<circle cx="1201.7" cy="1498.3" r="3.2" fill-opacity="0.83"/>
<circle cx="1241.7" cy="1444.2" r="3.1" fill-opacity="0.84"/>
<circle cx="1201.2" cy="1440.7" r="3.4" fill-opacity="0.83"/>
<circle cx="1219.3" cy="1498.9" r="3.6" fill-opacity="0.86"/>
<circle cx="1288.3" cy="1508.5" r="3.5" fill-opacity="0.69"/>
<circle cx="1191.2" cy="1461.4" r="3.2" fill-opacity="0.80"/>
<circle cx="1283.3" cy="1442.7" r="3.2" fill-opacity="0.82"/>
<circle cx="1277.8" cy="1445.1" r="3.8" fill-opacity="0.89"/>
<circle cx="1193.0" cy="1510.4" r="3.8" fill-opacity="0.83"/>
<circle cx="1241.9" cy="1420.9" r="3.1" fill-opacity="0.88"/>
<circle cx="1182.5" cy="1458.2" r="3.2" fill-opacity="0.90"/>
<circle cx="1236.4" cy="1412.4" r="3.3" fill-opacity="0.58"/>
<circle cx="1218.0" cy="1486.4" r="3.5" fill-opacity="0.84"/>
<circle cx="1225.3" cy="1488.9" r="3.0" fill-opacity="0.70"/>
<circle cx="1231.2" cy="1466.6" r="3.6" fill-opacity="0.62"/>
<circle cx="1242.7" cy="1512.5" r="3.6" fill-opacity="0.82"/>
<circle cx="1208.3" cy="1502.1" r="3.2" fill-opacity="0.74"/>
<circle cx="1228.6" cy="1474.5" r="3.7" fill-opacity="0.76"/>
<circle cx="1198.4" cy="1448.1" r="3.9" fill-opacity="0.62"/>
<circle cx="1201.9" cy="1480.9" r="3.6" fill-opacity="0.76"/>
<circle cx="1219.6" cy="1416.6" r="3.3" fill-opacity="0.64"/>
<circle cx="1251.3" cy="1416.5" r="3.8" fill-opacity="0.62"/>
<circle cx="1224.0" cy="1453.6" r="3.2" fill-opacity="0.79"/>
<circle cx="1252.0" cy="1514.3" r="3.6" fill-opacity="0.63"/>
<circle cx="1226.7" cy="1433.3" r="3.1" fill-opacity="0.86"/>
<circle cx="1205.3" cy="1448.0" r="3.5" fill-opacity="0.89"/>
<circle cx="1277.8" cy="1494.4" r="3.1" fill-opacity="0.83"/>
<circle cx="1243.9" cy="1492.2" r="3.5" fill-opacity="0.59"/>
<circle cx="1194.6" cy="1502.3" r="3.2" fill-opacity="0.79"/>
<circle cx="1242.4" cy="1520.2" r="3.1" fill-opacity="0.62"/>
<circle cx="1274.7" cy="1473.5" r="3.3" fill-opacity="0.87"/>
<circle cx="1205.2" cy="1515.1" r="3.0" fill-opacity="0.72"/>
<circle cx="1283.1" cy="1436.6" r="3.5" fill-opacity="0.61"/>
<circle cx="1256.0" cy="1463.5" r="3.9" fill-opacity="0.82"/>
<circle cx="1244.7" cy="1457.7" r="3.3" fill-opacity="0.58"/>
<circle cx="1214.7" cy="1521.5" r="3.7" fill-opacity="0.60"/>
<circle cx="1232.5" cy="1491.2" r="3.6" fill-opacity="0.70"/>
<circle cx="1267.3" cy="1440.7" r="3.6" fill-opacity="0.77"/>
<circle cx="1188.7" cy="1488.1" r="3.5" fill-opacity="0.68"/>
<circle cx="1231.0" cy="1519.2" r="3.7" fill-opacity="0.79"/>
<circle cx="1271.7" cy="1512.7" r="3.7" fill-opacity="0.79"/>
<circle cx="1265.6" cy="1467.7" r="3.4" fill-opacity="0.77"/>
<circle cx="1281.4" cy="1428.6" r="3.7" fill-opacity="0.89"/>
<circle cx="1178.3" cy="1466.1" r="3.6" fill-opacity="0.70"/>
<circle cx="1237.2" cy="1450.3" r="3.3" fill-opacity="0.80"/>
<circle cx="1271.8" cy="1417.8" r="3.2" fill-opacity="0.77"/>
<circle cx="1253.3" cy="1452.4" r="3.3" fill-opacity="0.88"/>
<circle cx="1271.6" cy="1456.3" r="3.2" fill-opacity="0.63"/>
<circle cx="1273.4" cy="1428.5" r="3.7" fill-opacity="0.64"/>
<circle cx="1186.3" cy="1495.5" r="3.9" fill-opacity="0.58"/>
<circle cx="1261.8" cy="1457.6" r="3.5" fill-opacity="0.59"/>
<circle cx="1206.2" cy="1454.4" r="3.5" fill-opacity="0.69"/>
<circle cx="1237.4" cy="1508.8" r="3.5" fill-opacity="0.59"/>
<circle cx="1185.6" cy="1480.8" r="3.6" fill-opacity="0.66"/>
<circle cx="1199.3" cy="1426.5" r="3.2" fill-opacity="0.79"/>
<circle cx="1285.4" cy="1464.9" r="3.8" fill-opacity="0.58"/>
<circle cx="1240.2" cy="1430.5" r="3.5" fill-opacity="0.64"/>
<circle cx="1265.6" cy="1494.2" r="3.2" fill-opacity="0.74"/>
<circle cx="1181.6" cy="1450.8" r="3.7" fill-opacity="0.63"/>
<circle cx="1203.1" cy="1488.8" r="3.6" fill-opacity="0.79"/>
<circle cx="1236.5" cy="1523.8" r="3.4" fill-opacity="0.56"/>
<circle cx="1257.0" cy="1520.3" r="3.9" fill-opacity="0.88"/>
<circle cx="1242.8" cy="1498.5" r="3.3" fill-opacity="0.83"/>
<circle cx="1230.8" cy="1420.6" r="3.1" fill-opacity="0.88"/>
<circle cx="1264.9" cy="1478.2" r="3.2" fill-opacity="0.76"/>
<circle cx="1235.9" cy="1514.6" r="3.2" fill-opacity="0.83"/>
<circle cx="1289.4" cy="1445.9" r="3.3" fill-opacity="0.67"/>
<circle cx="1296.6" cy="1451.5" r="3.2" fill-opacity="0.68"/>
<circle cx="1291.3" cy="1437.8" r="3.4" fill-opacity="0.83"/>
<circle cx="1196.1" cy="1467.8" r="3.8" fill-opacity="0.81"/>
<circle cx="1235.8" cy="1424.2" r="3.8" fill-opacity="0.65"/>
<circle cx="1232.5" cy="1533.7" r="3.8" fill-opacity="0.79"/>
<circle cx="1283.1" cy="1516.1" r="3.5" fill-opacity="0.76"/>
<circle cx="1221.5" cy="1521.6" r="3.1" fill-opacity="0.76"/>
<circle cx="1255.7" cy="1411.2" r="3.2" fill-opacity="0.79"/>
<circle cx="1246.8" cy="1440.7" r="3.4" fill-opacity="0.77"/>
<circle cx="1263.6" cy="1510.9" r="3.4" fill-opacity="0.64"/>
<circle cx="1216.6" cy="1504.8" r="3.9" fill-opacity="0.65"/>
<circle cx="1261.3" cy="1441.4" r="3.5" fill-opacity="0.86"/>
<circle cx="1179.3" cy="1478.6" r="3.9" fill-opacity="0.70"/>
<circle cx="1234.9" cy="1434.9" r="3.2" fill-opacity="0.80"/>
<circle cx="1227.7" cy="1483.7" r="3.8" fill-opacity="0.83"/>
<circle cx="1246.3" cy="1413.4" r="3.5" fill-opacity="0.90"/>
<circle cx="1184.6" cy="1464.2" r="3.3" fill-opacity="0.79"/>
<circle cx="1281.5" cy="1507.8" r="3.2" fill-opacity="0.80"/>
<circle cx="1210.2" cy="1445.4" r="3.6" fill-opacity="0.58"/>
<circle cx="1214.1" cy="1439.1" r="3.1" fill-opacity="0.86"/>
<circle cx="1289.4" cy="1502.9" r="3.3" fill-opacity="0.72"/>
<circle cx="1200.8" cy="1458.3" r="3.8" fill-opacity="0.80"/>
<circle cx="1221.1" cy="1478.5" r="3.3" fill-opacity="0.62"/>
<circle cx="1278.5" cy="1520.5" r="3.3" fill-opacity="0.70"/>
</g></g>
<ellipse cx="1240.1" cy="1471.5" rx="64.6" ry="64.4" fill="#fff" filter="url(#noise)"/>
<ellipse cx="1180.4" cy="1442.2" rx="3.4" ry="1.7" transform="rotate(295 1180.4 1442.2)" fill="#fff" fill-opacity="0.95" filter="url(#blur1)"/>
<ellipse cx="1178.2" cy="1493.4" rx="3.4" ry="1.7" transform="rotate(250 1178.2 1493.4)" fill="#fff" fill-opacity="0.95" filter="url(#blur1)"/>
<ellipse cx="1302.6" cy="1442.2" rx="3.4" ry="1.7" transform="rotate(425 1302.6 1442.2)" fill="#fff" fill-opacity="0.95" filter="url(#blur1)"/>
<ellipse cx="1302.6" cy="1498.8" rx="3.4" ry="1.7" transform="rotate(115 1302.6 1498.8)" fill="#fff" fill-opacity="0.95" filter="url(#blur1)"/>
<path d="M1169.5 1540.6V1405.1H1309.8" fill="none" stroke="#000" stroke-opacity="0.22" stroke-width="1"/>
</g></g>
<g><defs><clipPath id="tc10"><rect x="1322.0" y="1404.6" width="140.3" height="136"/></clipPath><clipPath id="dc10"><ellipse cx="1392.4" cy="1471.2" rx="64.6" ry="64.2"/></clipPath><linearGradient id="ga10" x1="0" y1="0" x2="1" y2="0"><stop offset="0" stop-color="#eaeaea"/><stop offset="1" stop-color="#cecece"/></linearGradient>
<radialGradient id="gc10_0" gradientUnits="userSpaceOnUse" cx="1462.3" cy="1404.6" r="95"><stop offset="0" stop-color="#505050" stop-opacity="0.55"/><stop offset="1" stop-color="#505050" stop-opacity="0"/></radialGradient>
</defs>
<g clip-path="url(#tc10)">
<rect x="1322.0" y="1404.6" width="140.3" height="136" fill="url(#ga10)"/>
<rect x="1322.0" y="1404.6" width="140.3" height="136" fill="url(#gc10_0)"/>
<g filter="url(#blur0)">
<ellipse cx="1395.5" cy="1469.0" rx="71.0" ry="70.2" fill="#000" fill-opacity="0.07" stroke="#f0f0f0" stroke-opacity="0.55" stroke-width="1.1"/>
<ellipse cx="1393.8" cy="1470.2" rx="68.19999999999999" ry="67.60000000000001" fill="#9c9c9c" fill-opacity="0.65" stroke="#ececec" stroke-opacity="0.9" stroke-width="1.3"/>
<ellipse cx="1393.0" cy="1470.8" rx="65.89999999999999" ry="65.4" fill="none" stroke="#b8b8b8" stroke-opacity="0.8" stroke-width="1.1"/>
</g>
<ellipse cx="1392.4" cy="1471.2" rx="64.6" ry="64.2" fill="#2b2b2b"/>
<g clip-path="url(#dc10)"><g filter="url(#blur)" fill="#b4b4b4">
<circle cx="1370.9" cy="1441.0" r="3.8" fill-opacity="0.58"/>
<circle cx="1439.9" cy="1449.6" r="3.8" fill-opacity="0.75"/>
<circle cx="1448.8" cy="1488.9" r="3.5" fill-opacity="0.61"/>
<circle cx="1438.4" cy="1459.8" r="3.6" fill-opacity="0.71"/>
<circle cx="1389.1" cy="1532.7" r="3.3" fill-opacity="0.77"/>
<circle cx="1428.3" cy="1515.8" r="3.6" fill-opacity="0.56"/>
<circle cx="1436.2" cy="1485.2" r="3.0" fill-opacity="0.82"/>
<circle cx="1347.1" cy="1469.4" r="3.4" fill-opacity="0.73"/>
<circle cx="1362.6" cy="1454.2" r="3.5" fill-opacity="0.69"/>
<circle cx="1345.2" cy="1492.2" r="3.5" fill-opacity="0.53"/>
<circle cx="1342.6" cy="1506.0" r="3.9" fill-opacity="0.68"/>
<circle cx="1376.5" cy="1482.6" r="3.2" fill-opacity="0.69"/>
<circle cx="1371.3" cy="1500.5" r="3.3" fill-opacity="0.57"/>
<circle cx="1406.8" cy="1422.6" r="3.2" fill-opacity="0.74"/>
<circle cx="1420.9" cy="1417.9" r="3.4" fill-opacity="0.80"/>
<circle cx="1338.3" cy="1439.4" r="3.7" fill-opacity="0.67"/>
<circle cx="1385.2" cy="1421.2" r="3.3" fill-opacity="0.77"/>
<circle cx="1413.3" cy="1426.7" r="3.8" fill-opacity="0.51"/>
<circle cx="1362.5" cy="1484.3" r="3.0" fill-opacity="0.84"/>
<circle cx="1406.4" cy="1501.2" r="3.1" fill-opacity="0.66"/>
<circle cx="1430.0" cy="1480.4" r="3.8" fill-opacity="0.51"/>
<circle cx="1392.5" cy="1417.8" r="3.4" fill-opacity="0.59"/>
<circle cx="1379.8" cy="1449.6" r="3.8" fill-opacity="0.73"/>
<circle cx="1382.1" cy="1463.3" r="3.4" fill-opacity="0.51"/>
<circle cx="1392.8" cy="1467.2" r="3.6" fill-opacity="0.84"/>
<circle cx="1409.7" cy="1446.2" r="3.5" fill-opacity="0.55"/>
<circle cx="1360.3" cy="1520.2" r="3.7" fill-opacity="0.50"/>
<circle cx="1355.7" cy="1505.7" r="3.2" fill-opacity="0.78"/>
<circle cx="1429.0" cy="1442.1" r="3.3" fill-opacity="0.80"/>
<circle cx="1365.1" cy="1469.0" r="3.2" fill-opacity="0.56"/>
<circle cx="1416.2" cy="1433.0" r="3.6" fill-opacity="0.79"/>
<circle cx="1431.1" cy="1432.1" r="3.3" fill-opacity="0.73"/>
<circle cx="1401.0" cy="1495.0" r="3.0" fill-opacity="0.63"/>
<circle cx="1396.4" cy="1516.4" r="3.9" fill-opacity="0.55"/>
<circle cx="1337.6" cy="1450.4" r="3.5" fill-opacity="0.68"/>
<circle cx="1412.3" cy="1417.6" r="3.1" fill-opacity="0.52"/>
<circle cx="1411.9" cy="1511.5" r="3.8" fill-opacity="0.64"/>
<circle cx="1353.5" cy="1433.5" r="3.3" fill-opacity="0.84"/>
<circle cx="1438.3" cy="1438.5" r="3.6" fill-opacity="0.61"/>
<circle cx="1360.2" cy="1490.3" r="3.7" fill-opacity="0.61"/>
<circle cx="1335.3" cy="1456.1" r="3.9" fill-opacity="0.63"/>
<circle cx="1413.7" cy="1493.4" r="3.3" fill-opacity="0.55"/>
<circle cx="1401.5" cy="1452.0" r="3.4" fill-opacity="0.78"/>
<circle cx="1375.8" cy="1470.7" r="3.3" fill-opacity="0.63"/>
<circle cx="1433.7" cy="1446.6" r="3.4" fill-opacity="0.72"/>
<circle cx="1442.2" cy="1486.9" r="3.7" fill-opacity="0.73"/>
<circle cx="1339.2" cy="1487.3" r="3.2" fill-opacity="0.67"/>
<circle cx="1359.6" cy="1433.5" r="3.0" fill-opacity="0.82"/>
<circle cx="1395.9" cy="1523.4" r="3.8" fill-opacity="0.62"/>
<circle cx="1354.7" cy="1499.3" r="3.2" fill-opacity="0.64"/>
<circle cx="1372.6" cy="1427.8" r="3.5" fill-opacity="0.58"/>
<circle cx="1357.0" cy="1458.7" r="3.7" fill-opacity="0.63"/>
<circle cx="1391.2" cy="1457.7" r="3.5" fill-opacity="0.61"/>
<circle cx="1396.2" cy="1449.1" r="3.6" fill-opacity="0.75"/>
<circle cx="1394.8" cy="1493.8" r="3.3" fill-opacity="0.73"/>
<circle cx="1392.0" cy="1477.1" r="3.4" fill-opacity="0.78"/>
<circle cx="1425.8" cy="1522.3" r="3.5" fill-opacity="0.56"/>
<circle cx="1423.4" cy="1493.8" r="3.4" fill-opacity="0.56"/>
<circle cx="1430.9" cy="1493.7" r="3.2" fill-opacity="0.66"/>
<circle cx="1404.3" cy="1482.8" r="3.7" fill-opacity="0.69"/>
<circle cx="1371.3" cy="1506.7" r="3.7" fill-opacity="0.58"/>
<circle cx="1405.6" cy="1433.2" r="3.0" fill-opacity="0.62"/>
<circle cx="1370.0" cy="1462.3" r="3.8" fill-opacity="0.82"/>
<circle cx="1332.6" cy="1466.9" r="3.6" fill-opacity="0.69"/>
<circle cx="1416.5" cy="1440.1" r="3.3" fill-opacity="0.71"/>
<circle cx="1382.2" cy="1520.7" r="3.0" fill-opacity="0.79"/>
<circle cx="1369.4" cy="1523.9" r="3.4" fill-opacity="0.56"/>
<circle cx="1364.7" cy="1425.0" r="3.3" fill-opacity="0.53"/>
<circle cx="1363.3" cy="1477.0" r="3.2" fill-opacity="0.64"/>
<circle cx="1445.6" cy="1498.2" r="3.3" fill-opacity="0.81"/>
<circle cx="1382.5" cy="1472.6" r="3.1" fill-opacity="0.61"/>
<circle cx="1428.4" cy="1426.5" r="3.1" fill-opacity="0.62"/>
<circle cx="1422.5" cy="1512.5" r="3.2" fill-opacity="0.81"/>
<circle cx="1351.4" cy="1476.0" r="3.7" fill-opacity="0.62"/>
<circle cx="1360.0" cy="1513.1" r="3.2" fill-opacity="0.52"/>
<circle cx="1379.1" cy="1508.4" r="3.8" fill-opacity="0.57"/>
<circle cx="1344.4" cy="1475.3" r="3.1" fill-opacity="0.65"/>
<circle cx="1348.2" cy="1481.4" r="3.1" fill-opacity="0.68"/>
<circle cx="1362.8" cy="1463.4" r="3.5" fill-opacity="0.68"/>
<circle cx="1349.7" cy="1441.8" r="3.6" fill-opacity="0.68"/>
<circle cx="1426.3" cy="1499.9" r="3.8" fill-opacity="0.64"/>
<circle cx="1345.1" cy="1437.6" r="3.8" fill-opacity="0.61"/>
<circle cx="1388.5" cy="1509.0" r="3.1" fill-opacity="0.60"/>
<circle cx="1398.9" cy="1409.2" r="3.2" fill-opacity="0.53"/>
<circle cx="1388.3" cy="1409.4" r="3.7" fill-opacity="0.64"/>
<circle cx="1390.7" cy="1427.0" r="3.9" fill-opacity="0.77"/>
<circle cx="1337.4" cy="1462.8" r="3.1" fill-opacity="0.62"/>
<circle cx="1368.1" cy="1415.3" r="3.7" fill-opacity="0.69"/>
<circle cx="1440.9" cy="1467.0" r="3.5" fill-opacity="0.64"/>
<circle cx="1350.6" cy="1514.1" r="3.7" fill-opacity="0.83"/>
<circle cx="1379.6" cy="1425.4" r="3.3" fill-opacity="0.51"/>
<circle cx="1449.1" cy="1465.7" r="3.2" fill-opacity="0.68"/>
<circle cx="1374.1" cy="1494.9" r="3.3" fill-opacity="0.64"/>
<circle cx="1419.8" cy="1500.4" r="3.5" fill-opacity="0.76"/>
<circle cx="1395.0" cy="1482.5" r="3.5" fill-opacity="0.76"/>
<circle cx="1337.7" cy="1501.6" r="3.7" fill-opacity="0.70"/>
<circle cx="1402.4" cy="1427.9" r="3.6" fill-opacity="0.76"/>
<circle cx="1367.9" cy="1515.1" r="3.9" fill-opacity="0.75"/>
<circle cx="1400.8" cy="1419.1" r="3.8" fill-opacity="0.84"/>
<circle cx="1361.7" cy="1443.6" r="3.2" fill-opacity="0.68"/>
<circle cx="1431.2" cy="1506.8" r="3.4" fill-opacity="0.80"/>
<circle cx="1336.4" cy="1477.1" r="3.0" fill-opacity="0.71"/>
<circle cx="1378.7" cy="1437.9" r="3.4" fill-opacity="0.64"/>
<circle cx="1441.4" cy="1432.4" r="3.9" fill-opacity="0.54"/>
<circle cx="1384.2" cy="1432.8" r="3.3" fill-opacity="0.53"/>
<circle cx="1348.7" cy="1463.2" r="3.2" fill-opacity="0.82"/>
<circle cx="1397.6" cy="1437.6" r="3.0" fill-opacity="0.53"/>
<circle cx="1420.7" cy="1484.0" r="3.4" fill-opacity="0.52"/>
<circle cx="1355.5" cy="1426.0" r="3.8" fill-opacity="0.56"/>
<circle cx="1445.9" cy="1446.2" r="3.7" fill-opacity="0.79"/>
<circle cx="1406.1" cy="1489.7" r="3.8" fill-opacity="0.82"/>
<circle cx="1400.6" cy="1473.9" r="3.6" fill-opacity="0.60"/>
<circle cx="1352.7" cy="1490.0" r="3.3" fill-opacity="0.59"/>
<circle cx="1388.0" cy="1524.9" r="3.2" fill-opacity="0.63"/>
<circle cx="1407.1" cy="1471.8" r="3.2" fill-opacity="0.78"/>
<circle cx="1333.7" cy="1490.5" r="3.4" fill-opacity="0.75"/>
<circle cx="1387.9" cy="1446.5" r="3.1" fill-opacity="0.70"/>
<circle cx="1374.6" cy="1454.8" r="3.5" fill-opacity="0.69"/>
<circle cx="1438.3" cy="1473.9" r="3.2" fill-opacity="0.68"/>
<circle cx="1444.9" cy="1476.4" r="3.5" fill-opacity="0.84"/>
<circle cx="1376.2" cy="1515.4" r="3.2" fill-opacity="0.64"/>
<circle cx="1380.3" cy="1417.2" r="3.0" fill-opacity="0.77"/>
<circle cx="1386.3" cy="1485.4" r="3.5" fill-opacity="0.57"/>
<circle cx="1400.3" cy="1463.6" r="3.5" fill-opacity="0.81"/>
<circle cx="1415.2" cy="1449.9" r="3.6" fill-opacity="0.56"/>
</g></g>
<ellipse cx="1392.4" cy="1471.2" rx="64.6" ry="64.2" fill="#fff" filter="url(#noise)"/>
<ellipse cx="1332.7" cy="1442.0" rx="3.4" ry="1.7" transform="rotate(295 1332.7 1442.0)" fill="#fff" fill-opacity="0.95" filter="url(#blur1)"/>
<ellipse cx="1330.5" cy="1493.0" rx="3.4" ry="1.7" transform="rotate(250 1330.5 1493.0)" fill="#fff" fill-opacity="0.95" filter="url(#blur1)"/>
<ellipse cx="1454.9" cy="1442.0" rx="3.4" ry="1.7" transform="rotate(425 1454.9 1442.0)" fill="#fff" fill-opacity="0.95" filter="url(#blur1)"/>
<ellipse cx="1454.9" cy="1498.4" rx="3.4" ry="1.7" transform="rotate(115 1454.9 1498.4)" fill="#fff" fill-opacity="0.95" filter="url(#blur1)"/>
<path d="M1322.0 1540.6V1405.1H1462.3" fill="none" stroke="#000" stroke-opacity="0.22" stroke-width="1"/>
</g></g>
<g><defs><clipPath id="tc11"><rect x="1474.8" y="1404.6" width="140.3" height="136"/></clipPath><clipPath id="dc11"><ellipse cx="1543.3" cy="1474.0" rx="64.4" ry="63.9"/></clipPath><linearGradient id="ga11" x1="0" y1="0" x2="1" y2="0"><stop offset="0" stop-color="#ececec"/><stop offset="1" stop-color="#cacaca"/></linearGradient>
<radialGradient id="gc11_0" gradientUnits="userSpaceOnUse" cx="1615.1" cy="1404.6" r="100"><stop offset="0" stop-color="#404040" stop-opacity="0.6"/><stop offset="1" stop-color="#404040" stop-opacity="0"/></radialGradient>
</defs>
<g clip-path="url(#tc11)">
<rect x="1474.8" y="1404.6" width="140.3" height="136" fill="url(#ga11)"/>
<rect x="1474.8" y="1404.6" width="140.3" height="136" fill="url(#gc11_0)"/>
<g filter="url(#blur0)">
<ellipse cx="1546.4" cy="1471.8" rx="70.80000000000001" ry="69.9" fill="#000" fill-opacity="0.07" stroke="#f0f0f0" stroke-opacity="0.55" stroke-width="1.1"/>
<ellipse cx="1544.7" cy="1473.0" rx="68.0" ry="67.3" fill="#9c9c9c" fill-opacity="0.65" stroke="#ececec" stroke-opacity="0.9" stroke-width="1.3"/>
<ellipse cx="1543.9" cy="1473.6" rx="65.7" ry="65.1" fill="none" stroke="#b8b8b8" stroke-opacity="0.8" stroke-width="1.1"/>
</g>
<ellipse cx="1543.3" cy="1474.0" rx="64.4" ry="63.9" fill="#232323"/>
<g clip-path="url(#dc11)"><g filter="url(#blur2)" fill="#b4b4b4">
<circle cx="1544.8" cy="1414.6" r="5.0" fill-opacity="0.40"/>
<circle cx="1536.8" cy="1420.6" r="4.0" fill-opacity="0.30"/>
<circle cx="1504.8" cy="1442.6" r="5.0" fill-opacity="0.40"/>
<circle cx="1507.8" cy="1474.6" r="5.0" fill-opacity="0.45"/>
<circle cx="1507.8" cy="1494.6" r="5.0" fill-opacity="0.40"/>
<circle cx="1504.8" cy="1514.6" r="5.0" fill-opacity="0.40"/>
<circle cx="1492.8" cy="1502.6" r="4.5" fill-opacity="0.35"/>
<circle cx="1536.8" cy="1512.6" r="5.0" fill-opacity="0.35"/>
<circle cx="1554.8" cy="1482.6" r="5.0" fill-opacity="0.30"/>
<circle cx="1574.8" cy="1492.6" r="4.5" fill-opacity="0.25"/>
<circle cx="1566.8" cy="1524.6" r="4.5" fill-opacity="0.25"/>
<circle cx="1589.8" cy="1434.6" r="4.5" fill-opacity="0.20"/>
<circle cx="1524.8" cy="1504.6" r="4.5" fill-opacity="0.25"/>
<circle cx="1586.8" cy="1509.6" r="4.5" fill-opacity="0.20"/>
</g></g>
<g clip-path="url(#dc11)"><circle cx="1536.8" cy="1466.6" r="36" fill="#fff" fill-opacity="0.09" filter="url(#blur3)"/></g>
<ellipse cx="1543.3" cy="1474.0" rx="64.4" ry="63.9" fill="#fff" filter="url(#noise)"/>
<ellipse cx="1483.8" cy="1444.9" rx="3.4" ry="1.7" transform="rotate(295 1483.8 1444.9)" fill="#fff" fill-opacity="0.95" filter="url(#blur1)"/>
<ellipse cx="1481.6" cy="1495.7" rx="3.4" ry="1.7" transform="rotate(250 1481.6 1495.7)" fill="#fff" fill-opacity="0.95" filter="url(#blur1)"/>
<ellipse cx="1605.6" cy="1444.9" rx="3.4" ry="1.7" transform="rotate(425 1605.6 1444.9)" fill="#fff" fill-opacity="0.95" filter="url(#blur1)"/>
<ellipse cx="1605.6" cy="1501.1" rx="3.4" ry="1.7" transform="rotate(115 1605.6 1501.1)" fill="#fff" fill-opacity="0.95" filter="url(#blur1)"/>
<path d="M1474.8 1540.6V1405.1H1615.1" fill="none" stroke="#000" stroke-opacity="0.22" stroke-width="1"/>
</g></g>
<g><defs><clipPath id="tc12"><rect x="1626.5" y="1404.6" width="140.3" height="136"/></clipPath><clipPath id="dc12"><ellipse cx="1695.9" cy="1473.1" rx="64.6" ry="63.5"/></clipPath><linearGradient id="ga12" x1="0" y1="0" x2="1" y2="0"><stop offset="0" stop-color="#ededed"/><stop offset="1" stop-color="#cccccc"/></linearGradient>
<radialGradient id="gc12_0" gradientUnits="userSpaceOnUse" cx="1766.8" cy="1404.6" r="100"><stop offset="0" stop-color="#404040" stop-opacity="0.6"/><stop offset="1" stop-color="#404040" stop-opacity="0"/></radialGradient>
</defs>
<g clip-path="url(#tc12)">
<rect x="1626.5" y="1404.6" width="140.3" height="136" fill="url(#ga12)"/>
<rect x="1626.5" y="1404.6" width="140.3" height="136" fill="url(#gc12_0)"/>
<g filter="url(#blur0)">
<ellipse cx="1699.0" cy="1470.9" rx="71.0" ry="69.5" fill="#000" fill-opacity="0.07" stroke="#f0f0f0" stroke-opacity="0.55" stroke-width="1.1"/>
<ellipse cx="1697.3" cy="1472.1" rx="68.19999999999999" ry="66.9" fill="#9c9c9c" fill-opacity="0.65" stroke="#ececec" stroke-opacity="0.9" stroke-width="1.3"/>
<ellipse cx="1696.5" cy="1472.7" rx="65.89999999999999" ry="64.7" fill="none" stroke="#b8b8b8" stroke-opacity="0.8" stroke-width="1.1"/>
</g>
<ellipse cx="1695.9" cy="1473.1" rx="64.6" ry="63.5" fill="#232323"/>
<g clip-path="url(#dc12)"><g filter="url(#blur2)" fill="#b4b4b4">
<circle cx="1698.5" cy="1469.6" r="5.0" fill-opacity="0.16"/>
<circle cx="1698.5" cy="1502.6" r="5.0" fill-opacity="0.16"/>
<circle cx="1644.5" cy="1489.6" r="5.0" fill-opacity="0.16"/>
</g></g>
<ellipse cx="1695.9" cy="1473.1" rx="64.6" ry="63.5" fill="#fff" filter="url(#noise)"/>
<ellipse cx="1636.2" cy="1444.2" rx="3.4" ry="1.7" transform="rotate(295 1636.2 1444.2)" fill="#fff" fill-opacity="0.95" filter="url(#blur1)"/>
<ellipse cx="1634.0" cy="1494.7" rx="3.4" ry="1.7" transform="rotate(250 1634.0 1494.7)" fill="#fff" fill-opacity="0.95" filter="url(#blur1)"/>
<ellipse cx="1758.4" cy="1444.2" rx="3.4" ry="1.7" transform="rotate(425 1758.4 1444.2)" fill="#fff" fill-opacity="0.95" filter="url(#blur1)"/>
<ellipse cx="1758.4" cy="1500.0" rx="3.4" ry="1.7" transform="rotate(115 1758.4 1500.0)" fill="#fff" fill-opacity="0.95" filter="url(#blur1)"/>
<path d="M1626.5 1540.6V1405.1H1766.8" fill="none" stroke="#000" stroke-opacity="0.22" stroke-width="1"/>
</g></g>
<g><defs><clipPath id="tc13"><rect x="1169.5" y="1551.5" width="140.3" height="136"/></clipPath><clipPath id="dc13"><ellipse cx="1239.5" cy="1617.3" rx="65" ry="63.7"/></clipPath><linearGradient id="ga13" x1="0" y1="0" x2="1" y2="0"><stop offset="0" stop-color="#cecece"/><stop offset="1" stop-color="#e4e4e4"/></linearGradient>
<radialGradient id="gc13_0" gradientUnits="userSpaceOnUse" cx="1169.5" cy="1687.5" r="85"><stop offset="0" stop-color="#505050" stop-opacity="0.42"/><stop offset="1" stop-color="#505050" stop-opacity="0"/></radialGradient>
<radialGradient id="gc13_1" gradientUnits="userSpaceOnUse" cx="1169.5" cy="1551.5" r="70"><stop offset="0" stop-color="#707070" stop-opacity="0.25"/><stop offset="1" stop-color="#707070" stop-opacity="0"/></radialGradient>
</defs>
<g clip-path="url(#tc13)">
<rect x="1169.5" y="1551.5" width="140.3" height="136" fill="url(#ga13)"/>
<rect x="1169.5" y="1551.5" width="140.3" height="136" fill="url(#gc13_0)"/>
<rect x="1169.5" y="1551.5" width="140.3" height="136" fill="url(#gc13_1)"/>
<g filter="url(#blur0)">
<ellipse cx="1236.6" cy="1620.2" rx="71.4" ry="69.7" fill="#000" fill-opacity="0.07" stroke="#f0f0f0" stroke-opacity="0.55" stroke-width="1.1"/>
<ellipse cx="1238.2" cy="1618.6" rx="68.6" ry="67.10000000000001" fill="#9c9c9c" fill-opacity="0.65" stroke="#ececec" stroke-opacity="0.9" stroke-width="1.3"/>
<ellipse cx="1239.0" cy="1617.8" rx="66.3" ry="64.9" fill="none" stroke="#b8b8b8" stroke-opacity="0.8" stroke-width="1.1"/>
</g>
<ellipse cx="1239.5" cy="1617.3" rx="65" ry="63.7" fill="#232323"/>
<g clip-path="url(#dc13)"><circle cx="1257.5" cy="1617.5" r="24" fill="#fff" fill-opacity="0.1" filter="url(#blur3)"/></g>
<ellipse cx="1239.5" cy="1617.3" rx="65" ry="63.7" fill="#fff" filter="url(#noise)"/>
<ellipse cx="1179.5" cy="1585.4" rx="3.4" ry="1.7" transform="rotate(300 1179.5 1585.4)" fill="#fff" fill-opacity="0.95" filter="url(#blur1)"/>
<ellipse cx="1179.5" cy="1651.8" rx="3.4" ry="1.7" transform="rotate(240 1179.5 1651.8)" fill="#fff" fill-opacity="0.95" filter="url(#blur1)"/>
<ellipse cx="1301.9" cy="1595.9" rx="3.4" ry="1.7" transform="rotate(430 1301.9 1595.9)" fill="#fff" fill-opacity="0.95" filter="url(#blur1)"/>
<ellipse cx="1293.7" cy="1656.6" rx="3.4" ry="1.7" transform="rotate(125 1293.7 1656.6)" fill="#fff" fill-opacity="0.95" filter="url(#blur1)"/>
<path d="M1169.5 1687.5V1552.0H1309.8" fill="none" stroke="#000" stroke-opacity="0.22" stroke-width="1"/>
</g></g>
<g><defs><clipPath id="tc14"><rect x="1322.0" y="1551.5" width="140.3" height="136"/></clipPath><clipPath id="dc14"><ellipse cx="1393.2" cy="1619.3" rx="65" ry="64"/></clipPath><linearGradient id="ga14" x1="0" y1="0" x2="1" y2="0"><stop offset="0" stop-color="#c8c8c8"/><stop offset="1" stop-color="#dcdcdc"/></linearGradient>
<radialGradient id="gc14_0" gradientUnits="userSpaceOnUse" cx="1462.3" cy="1687.5" r="85"><stop offset="0" stop-color="#505050" stop-opacity="0.45"/><stop offset="1" stop-color="#505050" stop-opacity="0"/></radialGradient>
<radialGradient id="gc14_1" gradientUnits="userSpaceOnUse" cx="1322.0" cy="1551.5" r="70"><stop offset="0" stop-color="#707070" stop-opacity="0.2"/><stop offset="1" stop-color="#707070" stop-opacity="0"/></radialGradient>
</defs>
<g clip-path="url(#tc14)">
<rect x="1322.0" y="1551.5" width="140.3" height="136" fill="url(#ga14)"/>
<rect x="1322.0" y="1551.5" width="140.3" height="136" fill="url(#gc14_0)"/>
<rect x="1322.0" y="1551.5" width="140.3" height="136" fill="url(#gc14_1)"/>
<g filter="url(#blur0)">
<ellipse cx="1390.3" cy="1622.2" rx="71.4" ry="70.0" fill="#000" fill-opacity="0.07" stroke="#f0f0f0" stroke-opacity="0.55" stroke-width="1.1"/>
<ellipse cx="1391.9" cy="1620.6" rx="68.6" ry="67.4" fill="#9c9c9c" fill-opacity="0.65" stroke="#ececec" stroke-opacity="0.9" stroke-width="1.3"/>
<ellipse cx="1392.7" cy="1619.8" rx="66.3" ry="65.2" fill="none" stroke="#b8b8b8" stroke-opacity="0.8" stroke-width="1.1"/>
</g>
<ellipse cx="1393.2" cy="1619.3" rx="65" ry="64" fill="#232323"/>
<g clip-path="url(#dc14)"><circle cx="1410.0" cy="1617.5" r="24" fill="#fff" fill-opacity="0.1" filter="url(#blur3)"/></g>
<ellipse cx="1393.2" cy="1619.3" rx="65" ry="64" fill="#fff" filter="url(#noise)"/>
<ellipse cx="1333.2" cy="1587.3" rx="3.4" ry="1.7" transform="rotate(300 1333.2 1587.3)" fill="#fff" fill-opacity="0.95" filter="url(#blur1)"/>
<ellipse cx="1333.2" cy="1653.9" rx="3.4" ry="1.7" transform="rotate(240 1333.2 1653.9)" fill="#fff" fill-opacity="0.95" filter="url(#blur1)"/>
<ellipse cx="1455.6" cy="1597.8" rx="3.4" ry="1.7" transform="rotate(430 1455.6 1597.8)" fill="#fff" fill-opacity="0.95" filter="url(#blur1)"/>
<ellipse cx="1447.4" cy="1658.8" rx="3.4" ry="1.7" transform="rotate(125 1447.4 1658.8)" fill="#fff" fill-opacity="0.95" filter="url(#blur1)"/>
<path d="M1322.0 1687.5V1552.0H1462.3" fill="none" stroke="#000" stroke-opacity="0.22" stroke-width="1"/>
</g></g>
<g><defs><clipPath id="tc15"><rect x="1474.8" y="1551.5" width="140.3" height="136"/></clipPath><clipPath id="dc15"><ellipse cx="1545.3" cy="1619.7" rx="64.6" ry="64.2"/></clipPath><linearGradient id="ga15" x1="0" y1="0" x2="1" y2="0"><stop offset="0" stop-color="#c8c8c8"/><stop offset="1" stop-color="#dedede"/></linearGradient>
<radialGradient id="gc15_0" gradientUnits="userSpaceOnUse" cx="1615.1" cy="1687.5" r="80"><stop offset="0" stop-color="#606060" stop-opacity="0.32"/><stop offset="1" stop-color="#606060" stop-opacity="0"/></radialGradient>
<radialGradient id="gc15_1" gradientUnits="userSpaceOnUse" cx="1474.8" cy="1551.5" r="75"><stop offset="0" stop-color="#606060" stop-opacity="0.3"/><stop offset="1" stop-color="#606060" stop-opacity="0"/></radialGradient>
</defs>
<g clip-path="url(#tc15)">
<rect x="1474.8" y="1551.5" width="140.3" height="136" fill="url(#ga15)"/>
<rect x="1474.8" y="1551.5" width="140.3" height="136" fill="url(#gc15_0)"/>
<rect x="1474.8" y="1551.5" width="140.3" height="136" fill="url(#gc15_1)"/>
<g filter="url(#blur0)">
<ellipse cx="1542.4" cy="1622.6" rx="71.0" ry="70.2" fill="#000" fill-opacity="0.07" stroke="#f0f0f0" stroke-opacity="0.55" stroke-width="1.1"/>
<ellipse cx="1544.0" cy="1621.0" rx="68.19999999999999" ry="67.60000000000001" fill="#9c9c9c" fill-opacity="0.65" stroke="#ececec" stroke-opacity="0.9" stroke-width="1.3"/>
<ellipse cx="1544.8" cy="1620.2" rx="65.89999999999999" ry="65.4" fill="none" stroke="#b8b8b8" stroke-opacity="0.8" stroke-width="1.1"/>
</g>
<ellipse cx="1545.3" cy="1619.7" rx="64.6" ry="64.2" fill="#232323"/>
<g clip-path="url(#dc15)"><circle cx="1562.8" cy="1617.5" r="24" fill="#fff" fill-opacity="0.1" filter="url(#blur3)"/></g>
<ellipse cx="1545.3" cy="1619.7" rx="64.6" ry="64.2" fill="#fff" filter="url(#noise)"/>
<ellipse cx="1485.6" cy="1587.6" rx="3.4" ry="1.7" transform="rotate(300 1485.6 1587.6)" fill="#fff" fill-opacity="0.95" filter="url(#blur1)"/>
<ellipse cx="1485.6" cy="1654.4" rx="3.4" ry="1.7" transform="rotate(240 1485.6 1654.4)" fill="#fff" fill-opacity="0.95" filter="url(#blur1)"/>
<ellipse cx="1607.3" cy="1598.2" rx="3.4" ry="1.7" transform="rotate(430 1607.3 1598.2)" fill="#fff" fill-opacity="0.95" filter="url(#blur1)"/>
<ellipse cx="1599.2" cy="1659.3" rx="3.4" ry="1.7" transform="rotate(125 1599.2 1659.3)" fill="#fff" fill-opacity="0.95" filter="url(#blur1)"/>
<path d="M1474.8 1687.5V1552.0H1615.1" fill="none" stroke="#000" stroke-opacity="0.22" stroke-width="1"/>
</g></g>
<g><defs><clipPath id="tc16"><rect x="1626.5" y="1551.5" width="140.3" height="136"/></clipPath><clipPath id="dc16"><ellipse cx="1696.0" cy="1619.3" rx="64.6" ry="64.3"/></clipPath><linearGradient id="ga16" x1="0" y1="0" x2="1" y2="0"><stop offset="0" stop-color="#cacaca"/><stop offset="1" stop-color="#e6e6e6"/></linearGradient>
<radialGradient id="gc16_0" gradientUnits="userSpaceOnUse" cx="1626.5" cy="1551.5" r="75"><stop offset="0" stop-color="#606060" stop-opacity="0.3"/><stop offset="1" stop-color="#606060" stop-opacity="0"/></radialGradient>
</defs>
<g clip-path="url(#tc16)">
<rect x="1626.5" y="1551.5" width="140.3" height="136" fill="url(#ga16)"/>
<rect x="1626.5" y="1551.5" width="140.3" height="136" fill="url(#gc16_0)"/>
<g filter="url(#blur0)">
<ellipse cx="1693.1" cy="1622.2" rx="71.0" ry="70.3" fill="#000" fill-opacity="0.07" stroke="#f0f0f0" stroke-opacity="0.55" stroke-width="1.1"/>
<ellipse cx="1694.7" cy="1620.6" rx="68.19999999999999" ry="67.7" fill="#9c9c9c" fill-opacity="0.65" stroke="#ececec" stroke-opacity="0.9" stroke-width="1.3"/>
<ellipse cx="1695.5" cy="1619.8" rx="65.89999999999999" ry="65.5" fill="none" stroke="#b8b8b8" stroke-opacity="0.8" stroke-width="1.1"/>
</g>
<ellipse cx="1696.0" cy="1619.3" rx="64.6" ry="64.3" fill="#232323"/>
<g clip-path="url(#dc16)"><circle cx="1714.5" cy="1617.5" r="24" fill="#fff" fill-opacity="0.1" filter="url(#blur3)"/></g>
<ellipse cx="1696.0" cy="1619.3" rx="64.6" ry="64.3" fill="#fff" filter="url(#noise)"/>
<ellipse cx="1636.3" cy="1587.1" rx="3.4" ry="1.7" transform="rotate(300 1636.3 1587.1)" fill="#fff" fill-opacity="0.95" filter="url(#blur1)"/>
<ellipse cx="1636.3" cy="1654.0" rx="3.4" ry="1.7" transform="rotate(240 1636.3 1654.0)" fill="#fff" fill-opacity="0.95" filter="url(#blur1)"/>
<ellipse cx="1758.0" cy="1597.7" rx="3.4" ry="1.7" transform="rotate(430 1758.0 1597.7)" fill="#fff" fill-opacity="0.95" filter="url(#blur1)"/>
<ellipse cx="1749.9" cy="1659.0" rx="3.4" ry="1.7" transform="rotate(125 1749.9 1659.0)" fill="#fff" fill-opacity="0.95" filter="url(#blur1)"/>
<path d="M1626.5 1687.5V1552.0H1766.8" fill="none" stroke="#000" stroke-opacity="0.22" stroke-width="1"/>
</g></g>
</svg></body></html>
